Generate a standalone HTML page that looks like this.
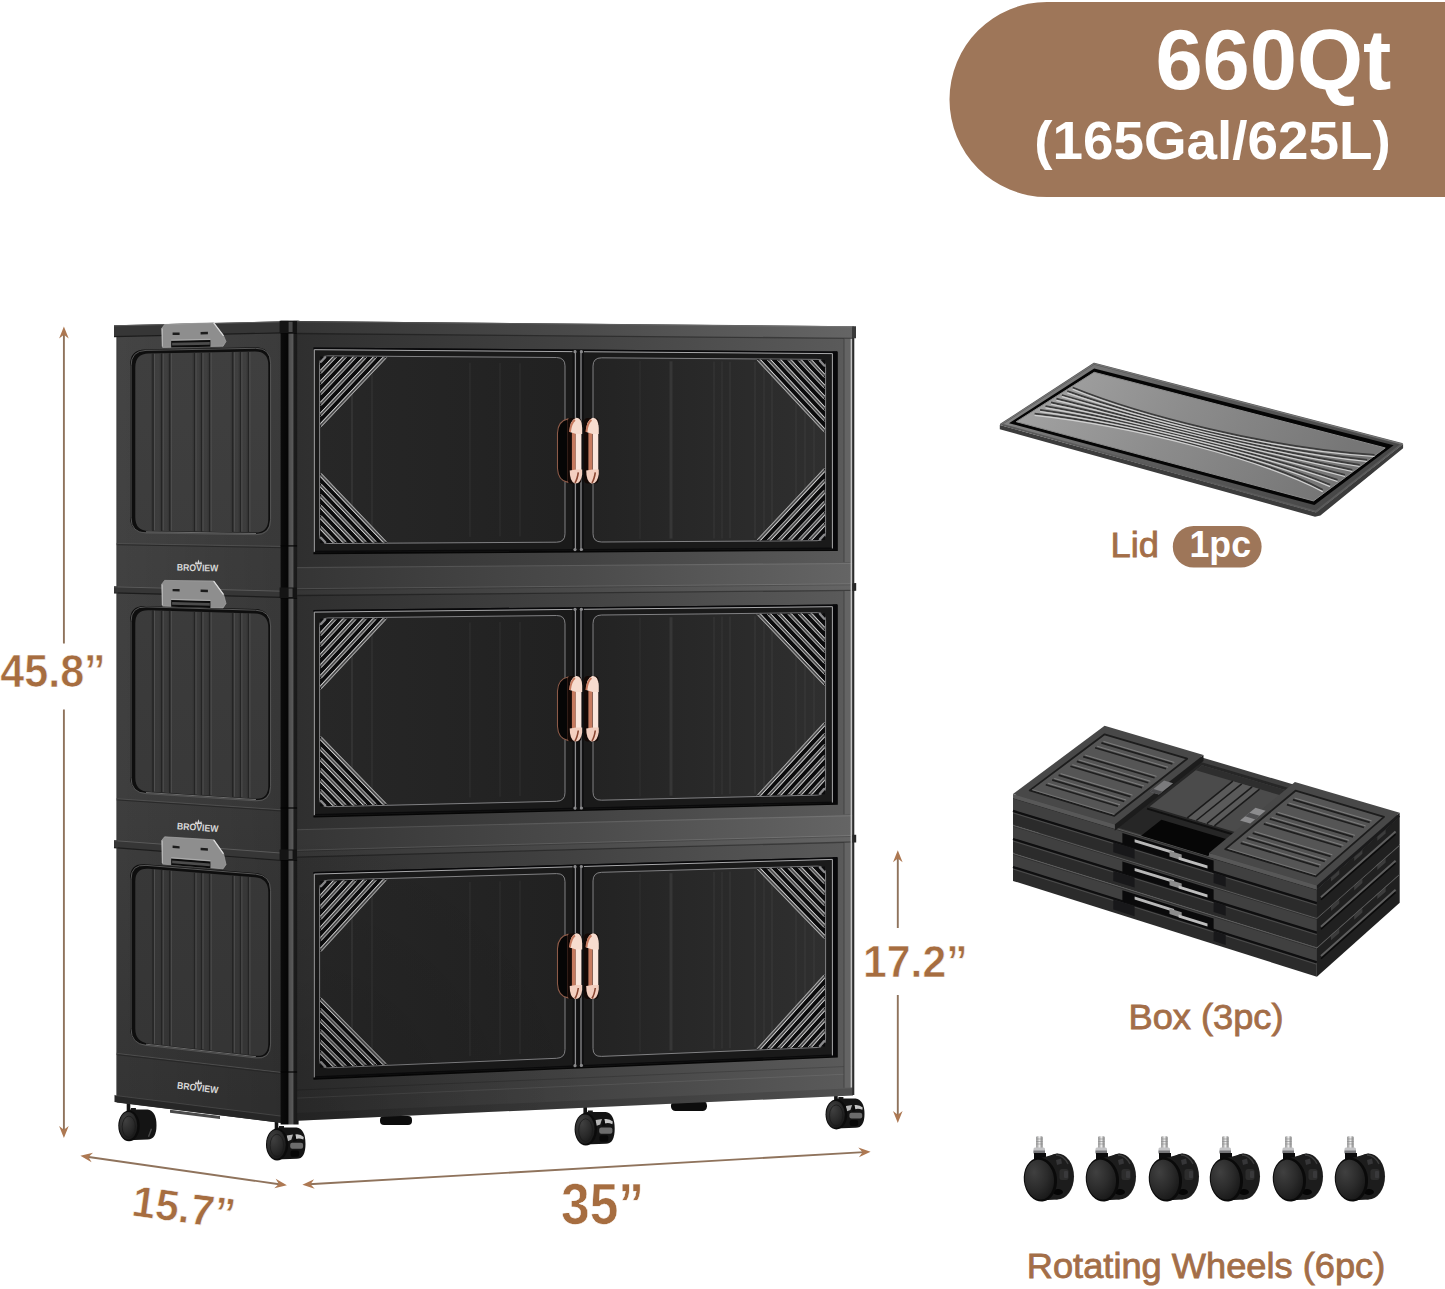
<!DOCTYPE html>
<html lang="en"><head><meta charset="utf-8"><title>660Qt storage cabinet</title>
<style>
html,body{margin:0;padding:0;background:#fff}
svg{display:block}
text{font-family:"Liberation Sans",sans-serif}
</style></head><body>
<svg width="1445" height="1289" viewBox="0 0 1445 1289">
<defs>
<linearGradient id="gRose" x1="0" y1="0" x2="1" y2="0">
 <stop offset="0" stop-color="#8a4a34"/><stop offset="0.3" stop-color="#e8b09a"/>
 <stop offset="0.55" stop-color="#fbe3d8"/><stop offset="0.8" stop-color="#d99078"/><stop offset="1" stop-color="#7a3d2a"/>
</linearGradient>
<linearGradient id="gPost" x1="0" y1="0" x2="1" y2="0">
 <stop offset="0" stop-color="#0b0b0b"/><stop offset="0.39" stop-color="#060606"/>
 <stop offset="0.48" stop-color="#4c4c4c"/><stop offset="0.66" stop-color="#595959"/>
 <stop offset="0.76" stop-color="#1d1d1d"/><stop offset="1" stop-color="#171717"/>
</linearGradient>
<linearGradient id="gFrame" x1="0" y1="0" x2="1" y2="0">
 <stop offset="0" stop-color="#2f2f2f"/><stop offset="0.5" stop-color="#424242"/><stop offset="1" stop-color="#5b5b5b"/>
</linearGradient>
<linearGradient id="gLip" x1="0" y1="0" x2="1" y2="0">
 <stop offset="0" stop-color="#353535"/><stop offset="0.5" stop-color="#4a4a4a"/><stop offset="1" stop-color="#656565"/>
</linearGradient>
<radialGradient id="gShade" gradientUnits="userSpaceOnUse" cx="297" cy="1125" r="300">
 <stop offset="0" stop-color="#000" stop-opacity="0.16"/><stop offset="0.5" stop-color="#000" stop-opacity="0.07"/><stop offset="1" stop-color="#000" stop-opacity="0"/>
</radialGradient>
<linearGradient id="gSide" gradientUnits="userSpaceOnUse" x1="0" y1="330" x2="0" y2="1100">
 <stop offset="0" stop-color="#444444"/><stop offset="0.6" stop-color="#3e3e3e"/><stop offset="1" stop-color="#343434"/>
</linearGradient>
<linearGradient id="gSideH" x1="0" y1="0" x2="1" y2="0">
 <stop offset="0" stop-color="#000" stop-opacity="0"/><stop offset="1" stop-color="#000" stop-opacity="0.13"/>
</linearGradient>
<linearGradient id="gRecess" gradientUnits="userSpaceOnUse" x1="0" y1="350" x2="0" y2="1045">
 <stop offset="0" stop-color="#3f3f3f"/><stop offset="1" stop-color="#353535"/>
</linearGradient>
<linearGradient id="gGlassL" x1="0" y1="0" x2="1" y2="0">
 <stop offset="0" stop-color="#272727"/><stop offset="1" stop-color="#212121"/>
</linearGradient>
<linearGradient id="gGlassR" x1="0" y1="0" x2="1" y2="0">
 <stop offset="0" stop-color="#232323"/><stop offset="1" stop-color="#2f2f2f"/>
</linearGradient>
<radialGradient id="gWheel" cx="0.4" cy="0.35" r="0.7">
 <stop offset="0" stop-color="#3a3a3a"/><stop offset="0.6" stop-color="#1c1c1c"/><stop offset="1" stop-color="#060606"/>
</radialGradient>
<radialGradient id="gWheelF" cx="0.35" cy="0.3" r="0.8">
 <stop offset="0" stop-color="#404040"/><stop offset="0.55" stop-color="#2b2b2b"/><stop offset="1" stop-color="#161616"/>
</radialGradient>
<linearGradient id="gLidTop" x1="0" y1="0" x2="1" y2="0.25">
 <stop offset="0" stop-color="#a6a6a6"/><stop offset="0.5" stop-color="#8c8c8c"/><stop offset="1" stop-color="#767676"/>
</linearGradient>
<linearGradient id="gLidRim" x1="0" y1="0" x2="1" y2="0.25">
 <stop offset="0" stop-color="#8e8e8e"/><stop offset="0.45" stop-color="#5e5e5e"/><stop offset="1" stop-color="#484848"/>
</linearGradient>
<linearGradient id="gStem" x1="0" y1="0" x2="1" y2="0">
 <stop offset="0" stop-color="#888"/><stop offset="0.5" stop-color="#eee"/><stop offset="1" stop-color="#777"/>
</linearGradient>
</defs>
<g id="cabinet">
<rect x="380" y="1116" width="32" height="9" rx="4" fill="#0c0c0c"/>
<rect x="671" y="1101" width="36" height="10" rx="4.5" fill="#0c0c0c"/>
<rect x="126.7" y="1101" width="3.6" height="12" fill="#141414"/>
<rect x="130.9" y="1108" width="5" height="3" fill="#1a1a1a"/>
<path d="M128.2 1109.5 L147.5 1109.5 Q156.5 1111 156.5 1125.3 Q156.5 1139.7 147.5 1139.5 L128.2 1140.2 Z" fill="#141414"/>
<path d="M148.5 1136.7 l3 -8" stroke="#4a4a4a" stroke-width="1.4" fill="none"/>
<ellipse cx="129" cy="1125.8" rx="10.7" ry="15.4" fill="#0b0b0b"/>
<ellipse cx="128.2" cy="1125.8" rx="9.1" ry="13.8" fill="url(#gWheelF)"/>
<ellipse cx="128.8" cy="1126.8" rx="6.6" ry="10.7" fill="none" stroke="#1a1a1a" stroke-width="0.8"/>
<rect x="274.7" y="1119" width="3.6" height="12" fill="#141414"/>
<rect x="279" y="1126" width="5" height="3" fill="#1a1a1a"/>
<path d="M276.3 1127.5 L296.5 1127.5 Q305.5 1129 305.5 1144 Q305.5 1159 296.5 1158.8 L276.3 1159.5 Z" fill="#141414"/>
<path d="M286.8 1135.4 l6.2 -1 l-1.7 5.4 l-4.1 1.6 z" fill="#b4b4b4"/>
<path d="M295.4 1134.4 q5.2 -0.6 8.3 2.6 l-0.3 2.6 q-4.3 -1.9 -7.2 -0.6 z" fill="#c6c6c6"/>
<path d="M294.7 1133.8 l2.1 7 l-3.8 0.6 l1 -3.8 z" fill="#0c0c0c"/>
<rect x="290.2" y="1142.7" width="12.9" height="6.1" rx="2" fill="#6c6c6c"/>
<rect x="290.5" y="1150.4" width="8.6" height="6.4" rx="2" fill="#070707"/>
<ellipse cx="277.1" cy="1144.4" rx="11.1" ry="16" fill="#0b0b0b"/>
<ellipse cx="276.3" cy="1144.4" rx="9.5" ry="14.4" fill="url(#gWheelF)"/>
<ellipse cx="276.9" cy="1145.4" rx="6.8" ry="11.2" fill="none" stroke="#1a1a1a" stroke-width="0.8"/>
<rect x="583.4" y="1104" width="3.6" height="11.5" fill="#141414"/>
<rect x="587.8" y="1110.5" width="5" height="3" fill="#1a1a1a"/>
<path d="M585 1112 L605.7 1112 Q614.7 1113.5 614.7 1128.8 Q614.7 1144 605.7 1143.8 L585 1144.5 Z" fill="#141414"/>
<path d="M595.7 1120 l6.3 -1 l-1.8 5.5 l-4.2 1.6 z" fill="#b4b4b4"/>
<path d="M604.4 1119 q5.3 -0.7 8.4 2.6 l-0.4 2.6 q-4.4 -1.9 -7.4 -0.7 z" fill="#c6c6c6"/>
<path d="M603.7 1118.3 l2.1 7.2 l-3.9 0.7 l1.1 -3.9 z" fill="#0c0c0c"/>
<rect x="599.2" y="1127.5" width="13.2" height="6.2" rx="2" fill="#6c6c6c"/>
<rect x="599.5" y="1135.2" width="8.8" height="6.5" rx="2" fill="#070707"/>
<ellipse cx="585.8" cy="1129.2" rx="11.2" ry="16.2" fill="#0b0b0b"/>
<ellipse cx="585" cy="1129.2" rx="9.6" ry="14.7" fill="url(#gWheelF)"/>
<ellipse cx="585.6" cy="1130.2" rx="6.9" ry="11.4" fill="none" stroke="#1a1a1a" stroke-width="0.8"/>
<rect x="834.1" y="1092" width="3.6" height="10" fill="#141414"/>
<rect x="838.4" y="1097" width="5" height="3" fill="#1a1a1a"/>
<path d="M835.6 1098.5 L855.5 1098.5 Q864.5 1100 864.5 1114 Q864.5 1128 855.5 1127.8 L835.6 1128.5 Z" fill="#141414"/>
<path d="M846 1105.9 l6.1 -0.9 l-1.7 5.1 l-4.1 1.5 z" fill="#b4b4b4"/>
<path d="M854.5 1105 q5.1 -0.6 8.2 2.4 l-0.3 2.4 q-4.2 -1.8 -7.1 -0.6 z" fill="#c6c6c6"/>
<path d="M853.8 1104.4 l2 6.6 l-3.7 0.6 l1 -3.6 z" fill="#0c0c0c"/>
<rect x="849.4" y="1112.8" width="12.8" height="5.7" rx="2" fill="#6c6c6c"/>
<rect x="849.7" y="1120" width="8.5" height="6" rx="2" fill="#070707"/>
<ellipse cx="836.4" cy="1114.4" rx="10.9" ry="15" fill="#0b0b0b"/>
<ellipse cx="835.6" cy="1114.4" rx="9.3" ry="13.4" fill="url(#gWheelF)"/>
<ellipse cx="836.2" cy="1115.4" rx="6.7" ry="10.5" fill="none" stroke="#1a1a1a" stroke-width="0.8"/>
<polygon points="116.6,330 282,326.1 282,1123.1 116.6,1102.4" fill="url(#gSide)" />
<polygon points="116.6,330 282,326.1 282,1123.1 116.6,1102.4" fill="url(#gSideH)" />
<polygon points="114.5,1095.4 282,1116.2 282,1123.1 114.5,1102.1" fill="#272727" />
<polyline points="114.5,1095.4 282,1116.2" fill="none" stroke="#4a4a4a" stroke-width="0.8" />
<polygon points="170,1109.8 220,1116 220,1119.1 170,1112.8" fill="#4a4a4a" />
<polyline points="116.6,543.5 282,546.4" fill="none" stroke="#505050" stroke-width="0.9" />
<polyline points="116.6,544.7 282,547.7" fill="none" stroke="#262626" stroke-width="0.9" />
<polygon points="114,325.3 282,321.3 282,332.9 114,336.6" fill="#363636" />
<polyline points="114,325.8 282,321.8" fill="none" stroke="#5a5a5a" stroke-width="1" />
<polyline points="114,336.6 282,332.9" fill="none" stroke="#1c1c1c" stroke-width="1.2" />
<path d="M145 349.4 L255 347.3 Q270 347 270 362.4 L270 518.6 Q270 534.1 255 533.8 L145 532.1 Q130 531.9 130 516.9 L130 364.8 Q130 349.7 145 349.4 Z" fill="#0e0e0e" />
<path d="M146 350.4 L255.6 348.3 Q270.6 348 270.6 363.5 L270.6 519.5 Q270.6 534.9 255.6 534.7 L146 533 Q131 532.7 131 517.7 L131 365.8 Q131 350.7 146 350.4 Z" fill="none" stroke="#555555" stroke-width="1" />
<path d="M148.8 353.6 L254.8 351.6 Q268.3 351.4 268.3 365.2 L268.3 518.9 Q268.3 532.8 254.8 532.6 L148.8 531 Q135.3 530.8 135.3 517.2 L135.3 367.4 Q135.3 353.8 148.8 353.6 Z" fill="url(#gRecess)" />
<polyline points="153,353.5 153,531.1" fill="none" stroke="#242424" stroke-width="1.5" />
<polyline points="154.5,353.8 154.5,530.3" fill="none" stroke="#565656" stroke-width="0.8" />
<polyline points="151.6,353.8 151.6,530.2" fill="none" stroke="#353535" stroke-width="0.8" />
<polyline points="161.7,353.3 161.7,531.2" fill="none" stroke="#242424" stroke-width="1.5" />
<polyline points="163.2,353.6 163.2,530.4" fill="none" stroke="#565656" stroke-width="0.8" />
<polyline points="160.3,353.7 160.3,530.4" fill="none" stroke="#353535" stroke-width="0.8" />
<polyline points="169.8,353.2 169.8,531.3" fill="none" stroke="#242424" stroke-width="1.5" />
<polyline points="171.3,353.5 171.3,530.5" fill="none" stroke="#565656" stroke-width="0.8" />
<polyline points="168.4,353.5 168.4,530.5" fill="none" stroke="#353535" stroke-width="0.8" />
<polyline points="194.5,352.7 194.5,531.7" fill="none" stroke="#242424" stroke-width="1.5" />
<polyline points="196,353 196,530.9" fill="none" stroke="#565656" stroke-width="0.8" />
<polyline points="193.1,353.1 193.1,530.9" fill="none" stroke="#353535" stroke-width="0.8" />
<polyline points="201.5,352.6 201.5,531.8" fill="none" stroke="#242424" stroke-width="1.5" />
<polyline points="203,352.9 203,531" fill="none" stroke="#565656" stroke-width="0.8" />
<polyline points="200.1,352.9 200.1,531" fill="none" stroke="#353535" stroke-width="0.8" />
<polyline points="209.6,352.5 209.6,531.9" fill="none" stroke="#242424" stroke-width="1.5" />
<polyline points="211.1,352.7 211.1,531.1" fill="none" stroke="#565656" stroke-width="0.8" />
<polyline points="208.2,352.8 208.2,531.1" fill="none" stroke="#353535" stroke-width="0.8" />
<polyline points="232.8,352 232.8,532.3" fill="none" stroke="#242424" stroke-width="1.5" />
<polyline points="234.3,352.3 234.3,531.5" fill="none" stroke="#565656" stroke-width="0.8" />
<polyline points="231.4,352.3 231.4,531.4" fill="none" stroke="#353535" stroke-width="0.8" />
<polyline points="240.4,351.9 240.4,532.4" fill="none" stroke="#242424" stroke-width="1.5" />
<polyline points="241.9,352.2 241.9,531.6" fill="none" stroke="#565656" stroke-width="0.8" />
<polyline points="239,352.2 239,531.6" fill="none" stroke="#353535" stroke-width="0.8" />
<polyline points="248.4,351.7 248.4,532.5" fill="none" stroke="#242424" stroke-width="1.5" />
<polyline points="249.9,352 249.9,531.7" fill="none" stroke="#565656" stroke-width="0.8" />
<polyline points="247,352.1 247,531.7" fill="none" stroke="#353535" stroke-width="0.8" />
<polyline points="146,531.8 256,533.5" fill="none" stroke="#6c6c6c" stroke-width="1" />
<polygon points="164.6,324.5 213.6,322.7 223.6,335.9 226,341.5 223.1,346.2 162.6,347.4 161.6,328.6" fill="#8e8e8e" stroke="#a8a8a8" stroke-width="0.7" stroke-linejoin="round"/>
<polyline points="213.9,323.1 223.2,335.4" fill="none" stroke="#dcdcdc" stroke-width="1.3" stroke-linecap="round"/>
<polyline points="162.4,328.6 162.4,346.4" fill="none" stroke="#b4b4b4" stroke-width="1.2" />
<polygon points="172.6,332.6 179.6,332.5 179.6,334.9 172.6,335" fill="#1c1c1c" />
<polygon points="200.6,332 207.9,331.8 207.9,334.3 200.6,334.4" fill="#1c1c1c" />
<polygon points="171.2,340.8 210.4,340 210.4,346.8 171.2,347.6" fill="#0c0c0c" />
<polygon points="172.1,342.8 209.8,342.1 209.8,344.8 172.1,345.6" fill="#4c4c4c" />
<polyline points="171.2,340.1 210.4,339.3" fill="none" stroke="#b0b0b0" stroke-width="0.9" />
<text x="176.8" y="570.6" font-size="9.6" font-weight="700" fill="#d8d8d8" textLength="41.5" lengthAdjust="spacingAndGlyphs" transform="rotate(1.3 176.8 570.6)">BROVIEW</text>
<path d="M194.7 564.2 l1.2 -3 l1.3 2 l1.3 -3.6 l1.3 3.6 l1.3 -2 l1.2 3 z" fill="#d8d8d8"/>
<polyline points="116.6,798.7 282,809.8" fill="none" stroke="#505050" stroke-width="0.9" />
<polyline points="116.6,799.9 282,811" fill="none" stroke="#262626" stroke-width="0.9" />
<polygon points="114,586.3 282,590.7 282,597.4 114,592.8" fill="#363636" />
<polyline points="114,586.8 282,591.2" fill="none" stroke="#5a5a5a" stroke-width="1" />
<polyline points="114,592.8 282,597.4" fill="none" stroke="#1c1c1c" stroke-width="1.2" />
<path d="M145 605.9 L255 609.1 Q270 609.6 270 625 L270 785.5 Q270 801 255 800 L145 792.8 Q130 791.8 130 776.8 L130 620.5 Q130 605.4 145 605.9 Z" fill="#0e0e0e" />
<path d="M146 606.9 L255.6 610.2 Q270.6 610.6 270.6 626 L270.6 786.4 Q270.6 801.8 255.6 800.8 L146 793.7 Q131 792.7 131 777.6 L131 621.5 Q131 606.4 146 606.9 Z" fill="none" stroke="#555555" stroke-width="1" />
<path d="M148.8 610.2 L254.8 613.4 Q268.3 613.8 268.3 627.7 L268.3 785.7 Q268.3 799.6 254.8 798.7 L148.8 791.8 Q135.3 791 135.3 777.4 L135.3 623.3 Q135.3 609.8 148.8 610.2 Z" fill="url(#gRecess)" />
<polyline points="153,610.3 153,792.1" fill="none" stroke="#242424" stroke-width="1.5" />
<polyline points="154.5,610.7 154.5,791.4" fill="none" stroke="#565656" stroke-width="0.8" />
<polyline points="151.6,610.6 151.6,791.2" fill="none" stroke="#353535" stroke-width="0.8" />
<polyline points="161.7,610.6 161.7,792.7" fill="none" stroke="#242424" stroke-width="1.5" />
<polyline points="163.2,610.9 163.2,792" fill="none" stroke="#565656" stroke-width="0.8" />
<polyline points="160.3,610.8 160.3,791.8" fill="none" stroke="#353535" stroke-width="0.8" />
<polyline points="169.8,610.8 169.8,793.2" fill="none" stroke="#242424" stroke-width="1.5" />
<polyline points="171.3,611.2 171.3,792.5" fill="none" stroke="#565656" stroke-width="0.8" />
<polyline points="168.4,611.1 168.4,792.3" fill="none" stroke="#353535" stroke-width="0.8" />
<polyline points="194.5,611.6 194.5,794.8" fill="none" stroke="#242424" stroke-width="1.5" />
<polyline points="196,611.9 196,794.1" fill="none" stroke="#565656" stroke-width="0.8" />
<polyline points="193.1,611.8 193.1,793.9" fill="none" stroke="#353535" stroke-width="0.8" />
<polyline points="201.5,611.8 201.5,795.3" fill="none" stroke="#242424" stroke-width="1.5" />
<polyline points="203,612.1 203,794.6" fill="none" stroke="#565656" stroke-width="0.8" />
<polyline points="200.1,612.1 200.1,794.4" fill="none" stroke="#353535" stroke-width="0.8" />
<polyline points="209.6,612 209.6,795.8" fill="none" stroke="#242424" stroke-width="1.5" />
<polyline points="211.1,612.4 211.1,795.1" fill="none" stroke="#565656" stroke-width="0.8" />
<polyline points="208.2,612.3 208.2,794.9" fill="none" stroke="#353535" stroke-width="0.8" />
<polyline points="232.8,612.7 232.8,797.3" fill="none" stroke="#242424" stroke-width="1.5" />
<polyline points="234.3,613.1 234.3,796.6" fill="none" stroke="#565656" stroke-width="0.8" />
<polyline points="231.4,613 231.4,796.4" fill="none" stroke="#353535" stroke-width="0.8" />
<polyline points="240.4,613 240.4,797.8" fill="none" stroke="#242424" stroke-width="1.5" />
<polyline points="241.9,613.3 241.9,797.1" fill="none" stroke="#565656" stroke-width="0.8" />
<polyline points="239,613.2 239,796.9" fill="none" stroke="#353535" stroke-width="0.8" />
<polyline points="248.4,613.2 248.4,798.3" fill="none" stroke="#242424" stroke-width="1.5" />
<polyline points="249.9,613.6 249.9,797.6" fill="none" stroke="#565656" stroke-width="0.8" />
<polyline points="247,613.5 247,797.4" fill="none" stroke="#353535" stroke-width="0.8" />
<polyline points="146,792.5 256,799.6" fill="none" stroke="#6c6c6c" stroke-width="1" />
<polygon points="164.6,580.4 213.6,581 223.6,594.6 226,603.4 223.1,607.9 162.6,606.1 161.6,584.4" fill="#8e8e8e" stroke="#a8a8a8" stroke-width="0.7" stroke-linejoin="round"/>
<polyline points="213.9,581.4 223.2,594.1" fill="none" stroke="#dcdcdc" stroke-width="1.3" stroke-linecap="round"/>
<polyline points="162.4,584.4 162.4,605.1" fill="none" stroke="#b4b4b4" stroke-width="1.2" />
<polygon points="172.6,588.9 179.6,589.1 179.6,591.5 172.6,591.3" fill="#1c1c1c" />
<polygon points="200.6,589.6 207.9,589.8 207.9,592.2 200.6,592.1" fill="#1c1c1c" />
<polygon points="171.2,600 210.4,601.1 210.4,607.9 171.2,606.7" fill="#0c0c0c" />
<polygon points="172.1,602 209.8,603.1 209.8,605.8 172.1,604.7" fill="#4c4c4c" />
<polyline points="171.2,599.3 210.4,600.4" fill="none" stroke="#b0b0b0" stroke-width="0.9" />
<text x="176.8" y="829.2" font-size="9.6" font-weight="700" fill="#d8d8d8" textLength="41.5" lengthAdjust="spacingAndGlyphs" transform="rotate(4.1 176.8 829.2)">BROVIEW</text>
<path d="M194.7 823.9 l1.2 -3 l1.3 2 l1.3 -3.6 l1.3 3.6 l1.3 -2 l1.2 3 z" fill="#d8d8d8"/>
<polyline points="116.6,1053.4 282,1072.5" fill="none" stroke="#505050" stroke-width="0.9" />
<polyline points="116.6,1054.6 282,1073.8" fill="none" stroke="#262626" stroke-width="0.9" />
<polygon points="114,840.1 282,852.6 282,860.5 114,847.6" fill="#363636" />
<polyline points="114,840.6 282,853.1" fill="none" stroke="#5a5a5a" stroke-width="1" />
<polyline points="114,847.6 282,860.5" fill="none" stroke="#1c1c1c" stroke-width="1.2" />
<path d="M145 864.3 L255 873 Q270 874.2 270 889.6 L270 1043.2 Q270 1058.7 255 1057 L145 1044.5 Q130 1042.8 130 1027.7 L130 878.1 Q130 863.1 145 864.3 Z" fill="#0e0e0e" />
<path d="M146 865.4 L255.6 874.1 Q270.6 875.2 270.6 890.7 L270.6 1044.1 Q270.6 1059.6 255.6 1057.9 L146 1045.4 Q131 1043.7 131 1028.7 L131 879.2 Q131 864.2 146 865.4 Z" fill="none" stroke="#555555" stroke-width="1" />
<path d="M148.8 868.8 L254.8 877.3 Q268.3 878.4 268.3 892.3 L268.3 1043.4 Q268.3 1057.3 254.8 1055.7 L148.8 1043.7 Q135.3 1042.2 135.3 1028.6 L135.3 881.3 Q135.3 867.7 148.8 868.8 Z" fill="url(#gRecess)" />
<polyline points="153,869.2 153,1044.2" fill="none" stroke="#242424" stroke-width="1.5" />
<polyline points="154.5,869.6 154.5,1043.6" fill="none" stroke="#565656" stroke-width="0.8" />
<polyline points="151.6,869.3 151.6,1043.2" fill="none" stroke="#353535" stroke-width="0.8" />
<polyline points="161.7,869.8 161.7,1045.2" fill="none" stroke="#242424" stroke-width="1.5" />
<polyline points="163.2,870.3 163.2,1044.5" fill="none" stroke="#565656" stroke-width="0.8" />
<polyline points="160.3,870 160.3,1044.2" fill="none" stroke="#353535" stroke-width="0.8" />
<polyline points="169.8,870.5 169.8,1046.1" fill="none" stroke="#242424" stroke-width="1.5" />
<polyline points="171.3,870.9 171.3,1045.5" fill="none" stroke="#565656" stroke-width="0.8" />
<polyline points="168.4,870.7 168.4,1045.1" fill="none" stroke="#353535" stroke-width="0.8" />
<polyline points="194.5,872.5 194.5,1048.9" fill="none" stroke="#242424" stroke-width="1.5" />
<polyline points="196,872.9 196,1048.2" fill="none" stroke="#565656" stroke-width="0.8" />
<polyline points="193.1,872.7 193.1,1047.9" fill="none" stroke="#353535" stroke-width="0.8" />
<polyline points="201.5,873 201.5,1049.7" fill="none" stroke="#242424" stroke-width="1.5" />
<polyline points="203,873.5 203,1049" fill="none" stroke="#565656" stroke-width="0.8" />
<polyline points="200.1,873.2 200.1,1048.7" fill="none" stroke="#353535" stroke-width="0.8" />
<polyline points="209.6,873.7 209.6,1050.6" fill="none" stroke="#242424" stroke-width="1.5" />
<polyline points="211.1,874.1 211.1,1050" fill="none" stroke="#565656" stroke-width="0.8" />
<polyline points="208.2,873.9 208.2,1049.6" fill="none" stroke="#353535" stroke-width="0.8" />
<polyline points="232.8,875.5 232.8,1053.2" fill="none" stroke="#242424" stroke-width="1.5" />
<polyline points="234.3,876 234.3,1052.6" fill="none" stroke="#565656" stroke-width="0.8" />
<polyline points="231.4,875.7 231.4,1052.3" fill="none" stroke="#353535" stroke-width="0.8" />
<polyline points="240.4,876.1 240.4,1054.1" fill="none" stroke="#242424" stroke-width="1.5" />
<polyline points="241.9,876.6 241.9,1053.4" fill="none" stroke="#565656" stroke-width="0.8" />
<polyline points="239,876.3 239,1053.1" fill="none" stroke="#353535" stroke-width="0.8" />
<polyline points="248.4,876.8 248.4,1055" fill="none" stroke="#242424" stroke-width="1.5" />
<polyline points="249.9,877.2 249.9,1054.3" fill="none" stroke="#565656" stroke-width="0.8" />
<polyline points="247,877 247,1054" fill="none" stroke="#353535" stroke-width="0.8" />
<polyline points="146,1044.2 256,1056.7" fill="none" stroke="#6c6c6c" stroke-width="1" />
<polygon points="164.6,836.8 213.6,839.8 223.6,853.9 226,864.5 223.1,868.8 162.6,864.1 161.6,840.6" fill="#8e8e8e" stroke="#a8a8a8" stroke-width="0.7" stroke-linejoin="round"/>
<polyline points="213.9,840.2 223.2,853.3" fill="none" stroke="#dcdcdc" stroke-width="1.3" stroke-linecap="round"/>
<polyline points="162.4,840.6 162.4,863" fill="none" stroke="#b4b4b4" stroke-width="1.2" />
<polygon points="172.6,845.6 179.6,846.2 179.6,848.6 172.6,848.1" fill="#1c1c1c" />
<polygon points="200.6,847.7 207.9,848.3 207.9,850.7 200.6,850.2" fill="#1c1c1c" />
<polygon points="171.2,858.4 210.4,861.4 210.4,868.2 171.2,865.1" fill="#0c0c0c" />
<polygon points="172.1,860.5 209.8,863.4 209.8,866.2 172.1,863.2" fill="#4c4c4c" />
<polyline points="171.2,857.7 210.4,860.7" fill="none" stroke="#b0b0b0" stroke-width="0.9" />
<text x="176.8" y="1088.4" font-size="9.6" font-weight="700" fill="#d8d8d8" textLength="41.5" lengthAdjust="spacingAndGlyphs" transform="rotate(6.9 176.8 1088.4)">BROVIEW</text>
<path d="M194.7 1084.2 l1.2 -3 l1.3 2 l1.3 -3.6 l1.3 3.6 l1.3 -2 l1.2 3 z" fill="#d8d8d8"/>
<polyline points="117,337 117,1095.1" fill="none" stroke="#3a3a3a" stroke-width="0.8" />
<polygon points="280.6,320.8 298.6,320.8 298.6,1124.5 280.6,1124.5" fill="url(#gPost)"/>
<line x1="280.6" y1="333" x2="298.6" y2="333" stroke="#050505" stroke-width="1.2"/>
<line x1="280.6" y1="590" x2="298.6" y2="590" stroke="#050505" stroke-width="1.2"/>
<line x1="280.6" y1="598" x2="298.6" y2="598" stroke="#050505" stroke-width="1.2"/>
<line x1="280.6" y1="852" x2="298.6" y2="852" stroke="#050505" stroke-width="1.2"/>
<line x1="280.6" y1="860" x2="298.6" y2="860" stroke="#050505" stroke-width="1.2"/>
<line x1="280.6" y1="545.9" x2="298.6" y2="545.9" stroke="#050505" stroke-width="1.2"/>
<line x1="280.6" y1="808" x2="298.6" y2="808" stroke="#050505" stroke-width="1.2"/>
<line x1="280.6" y1="1072" x2="298.6" y2="1072" stroke="#050505" stroke-width="1.2"/>
<rect x="279.6" y="320.8" width="20" height="12.2" fill="#141414"/>
<rect x="288.6" y="321.8" width="4" height="10.2" fill="#4a4a4a"/>
<rect x="279.6" y="587.5" width="20" height="10.5" fill="#141414"/>
<rect x="288.6" y="588.5" width="4" height="8.5" fill="#4a4a4a"/>
<rect x="279.6" y="849.5" width="20" height="10.5" fill="#141414"/>
<rect x="288.6" y="850.5" width="4" height="8.5" fill="#4a4a4a"/>
<polygon points="297.2,321 853,326.2 853,1095.6 297.2,1120.7" fill="url(#gFrame)" />
<polygon points="297.2,1113.1 853,1088.3 853,1095.6 297.2,1120.7" fill="#000000" opacity="0.12"/>
<polyline points="297.2,1098.1 853,1073.9" fill="none" stroke="#ffffff" stroke-width="0.8" opacity="0.10"/>
<polyline points="297.2,1090.1 853,1066.2" fill="none" stroke="#000000" stroke-width="0.8" opacity="0.22"/>
<polygon points="297.2,321 853.8,326.3 853.8,338.3 297.2,333.5" fill="url(#gLip)" />
<polyline points="297.2,321.6 853.8,326.8" fill="none" stroke="#ffffff" stroke-width="1.1" opacity="0.10"/>
<polyline points="297.2,333.5 853.8,338.3" fill="none" stroke="#000000" stroke-width="1.3" opacity="0.35"/>
<polygon points="313.5,347.5 837,351.5 837,550.1 313.5,553.4" fill="#1a1a1a" />
<polyline points="313.5,553.4 837,550.1 837,351.5" fill="none" stroke="#060606" stroke-width="1.6" />
<polygon points="832.8,351.5 837,351.5 837,550.1 832.8,550.1" fill="#08080a" />
<polygon points="313.5,347.5 837,351.5 837,353.3 313.5,349.3" fill="#08080a" />
<polygon points="315.1,550.8 837,547.6 837,548.9 315.1,552.2" fill="#0a0a0b" />
<polyline points="314.3,551.8 314.3,349.7 832.4,353.6 832.4,548.5" fill="none" stroke="#a9a9ab" stroke-width="1" />
<path d="M328.1 355.9 L556.5 357.5 Q565 357.6 565 365.9 L565 533.8 Q565 542.2 556.5 542.2 L328.1 543.5 Q319.6 543.6 319.6 535.1 L319.6 364.3 Q319.6 355.8 328.1 355.9 Z" fill="#0a0a0b" />
<path d="M601.5 357.8 L817.1 359.4 Q825.6 359.4 825.6 367.6 L825.6 532.5 Q825.6 540.7 817.1 540.7 L601.5 542 Q593 542 593 533.7 L593 366.1 Q593 357.8 601.5 357.8 Z" fill="#0a0a0b" />
<path d="M328.1 355.9 L556.5 357.5 Q565 357.6 565 365.9 L565 533.8 Q565 542.2 556.5 542.2 L328.1 543.5 Q319.6 543.6 319.6 535.1 L319.6 364.3 Q319.6 355.8 328.1 355.9 Z" fill="url(#gGlassL)" stroke="#8c8c8e" stroke-width="0.9" />
<path d="M601.5 357.8 L817.1 359.4 Q825.6 359.4 825.6 367.6 L825.6 532.5 Q825.6 540.7 817.1 540.7 L601.5 542 Q593 542 593 533.7 L593 366.1 Q593 357.8 601.5 357.8 Z" fill="url(#gGlassR)" stroke="#8c8c8e" stroke-width="0.9" />
<polyline points="352,362 352,537.4" fill="none" stroke="#ffffff" stroke-width="1.2" opacity="0.1"/>
<polyline points="372,362.2 372,537.3" fill="none" stroke="#ffffff" stroke-width="1.2" opacity="0.07"/>
<polyline points="470,362.8 470,536.8" fill="none" stroke="#ffffff" stroke-width="1.2" opacity="0.06"/>
<polyline points="500,363 500,536.6" fill="none" stroke="#ffffff" stroke-width="1.2" opacity="0.05"/>
<polyline points="520,363.2 520,536.5" fill="none" stroke="#ffffff" stroke-width="1.2" opacity="0.05"/>
<polyline points="671,361.3 671,538.6" fill="none" stroke="#ffffff" stroke-width="3" opacity="0.07"/>
<polyline points="640,361.1 640,538.8" fill="none" stroke="#ffffff" stroke-width="1.1" opacity="0.05"/>
<polyline points="714,361.6 714,538.4" fill="none" stroke="#ffffff" stroke-width="1.1" opacity="0.07"/>
<polyline points="722,361.6 722,538.4" fill="none" stroke="#ffffff" stroke-width="1.1" opacity="0.06"/>
<polyline points="730,361.7 730,538.3" fill="none" stroke="#ffffff" stroke-width="1.1" opacity="0.07"/>
<polyline points="755,361.8 755,538.2" fill="none" stroke="#ffffff" stroke-width="1.1" opacity="0.07"/>
<polyline points="764,361.9 764,538.1" fill="none" stroke="#ffffff" stroke-width="1.1" opacity="0.06"/>
<polyline points="772,362 772,538.1" fill="none" stroke="#ffffff" stroke-width="1.1" opacity="0.07"/>
<polyline points="796,362.1 796,538" fill="none" stroke="#ffffff" stroke-width="1.1" opacity="0.06"/>
<polyline points="805,362.2 805,537.9" fill="none" stroke="#ffffff" stroke-width="1.1" opacity="0.06"/>
<polyline points="814,362.3 814,537.9" fill="none" stroke="#ffffff" stroke-width="1.1" opacity="0.06"/>
<polygon points="320.2,356.4 387.2,356.9 320.2,427.8" fill="#0b0b0c" />
<polyline points="384.9,357.3 320.6,425.3" fill="none" stroke="#707070" stroke-width="3.7" />
<polyline points="384.9,357.3 320.6,425.3" fill="none" stroke="#303032" stroke-width="0.9" />
<polyline points="382.9,357.3 320.6,423.4" fill="none" stroke="#cfcfcf" stroke-width="1" />
<polyline points="386.8,357.3 320.6,427.3" fill="none" stroke="#ababab" stroke-width="0.9" />
<polyline points="374.8,357.2 320.6,414.7" fill="none" stroke="#707070" stroke-width="3.7" />
<polyline points="374.8,357.2 320.6,414.7" fill="none" stroke="#303032" stroke-width="0.9" />
<polyline points="372.9,357.2 320.6,412.7" fill="none" stroke="#cfcfcf" stroke-width="1" />
<polyline points="376.8,357.2 320.6,416.6" fill="none" stroke="#ababab" stroke-width="0.9" />
<polyline points="364.8,357.2 320.6,404" fill="none" stroke="#707070" stroke-width="3.7" />
<polyline points="364.8,357.2 320.6,404" fill="none" stroke="#303032" stroke-width="0.9" />
<polyline points="362.9,357.1 320.6,402" fill="none" stroke="#cfcfcf" stroke-width="1" />
<polyline points="366.8,357.2 320.6,405.9" fill="none" stroke="#ababab" stroke-width="0.9" />
<polyline points="354.8,357.1 320.6,393.3" fill="none" stroke="#707070" stroke-width="3.7" />
<polyline points="354.8,357.1 320.6,393.3" fill="none" stroke="#303032" stroke-width="0.9" />
<polyline points="352.8,357.1 320.6,391.4" fill="none" stroke="#cfcfcf" stroke-width="1" />
<polyline points="356.7,357.1 320.6,395.2" fill="none" stroke="#ababab" stroke-width="0.9" />
<polyline points="344.8,357 320.6,382.6" fill="none" stroke="#707070" stroke-width="3.7" />
<polyline points="344.8,357 320.6,382.6" fill="none" stroke="#303032" stroke-width="0.9" />
<polyline points="342.8,357 320.6,380.7" fill="none" stroke="#cfcfcf" stroke-width="1" />
<polyline points="346.7,357 320.6,384.6" fill="none" stroke="#ababab" stroke-width="0.9" />
<polyline points="334.7,356.9 320.6,371.9" fill="none" stroke="#707070" stroke-width="3.7" />
<polyline points="334.7,356.9 320.6,371.9" fill="none" stroke="#303032" stroke-width="0.9" />
<polyline points="332.8,356.9 320.6,370" fill="none" stroke="#cfcfcf" stroke-width="1" />
<polyline points="336.7,357 320.6,373.9" fill="none" stroke="#ababab" stroke-width="0.9" />
<polyline points="325.2,357.3 321,361.8" fill="none" stroke="#8a8a8c" stroke-width="2.4" stroke-linecap="round"/>
<polygon points="320.2,543 387.2,542.6 320.2,472.4" fill="#0b0b0c" />
<polyline points="384.9,542.2 320.6,474.9" fill="none" stroke="#707070" stroke-width="3.7" />
<polyline points="384.9,542.2 320.6,474.9" fill="none" stroke="#303032" stroke-width="0.9" />
<polyline points="382.9,542.2 320.6,476.8" fill="none" stroke="#cfcfcf" stroke-width="1" />
<polyline points="386.8,542.2 320.6,472.9" fill="none" stroke="#ababab" stroke-width="0.9" />
<polyline points="374.8,542.3 320.6,485.4" fill="none" stroke="#707070" stroke-width="3.7" />
<polyline points="374.8,542.3 320.6,485.4" fill="none" stroke="#303032" stroke-width="0.9" />
<polyline points="372.9,542.3 320.6,487.4" fill="none" stroke="#cfcfcf" stroke-width="1" />
<polyline points="376.8,542.3 320.6,483.5" fill="none" stroke="#ababab" stroke-width="0.9" />
<polyline points="364.8,542.3 320.6,496" fill="none" stroke="#707070" stroke-width="3.7" />
<polyline points="364.8,542.3 320.6,496" fill="none" stroke="#303032" stroke-width="0.9" />
<polyline points="362.9,542.3 320.6,497.9" fill="none" stroke="#cfcfcf" stroke-width="1" />
<polyline points="366.8,542.3 320.6,494" fill="none" stroke="#ababab" stroke-width="0.9" />
<polyline points="354.8,542.4 320.6,506.5" fill="none" stroke="#707070" stroke-width="3.7" />
<polyline points="354.8,542.4 320.6,506.5" fill="none" stroke="#303032" stroke-width="0.9" />
<polyline points="352.8,542.4 320.6,508.5" fill="none" stroke="#cfcfcf" stroke-width="1" />
<polyline points="356.7,542.4 320.6,504.6" fill="none" stroke="#ababab" stroke-width="0.9" />
<polyline points="344.8,542.4 320.6,517.1" fill="none" stroke="#707070" stroke-width="3.7" />
<polyline points="344.8,542.4 320.6,517.1" fill="none" stroke="#303032" stroke-width="0.9" />
<polyline points="342.8,542.5 320.6,519" fill="none" stroke="#cfcfcf" stroke-width="1" />
<polyline points="346.7,542.4 320.6,515.2" fill="none" stroke="#ababab" stroke-width="0.9" />
<polyline points="334.7,542.5 320.6,527.7" fill="none" stroke="#707070" stroke-width="3.7" />
<polyline points="334.7,542.5 320.6,527.7" fill="none" stroke="#303032" stroke-width="0.9" />
<polyline points="332.8,542.5 320.6,529.6" fill="none" stroke="#cfcfcf" stroke-width="1" />
<polyline points="336.7,542.5 320.6,525.7" fill="none" stroke="#ababab" stroke-width="0.9" />
<polyline points="325.2,542.2 321,537.7" fill="none" stroke="#8a8a8c" stroke-width="2.4" stroke-linecap="round"/>
<polygon points="825,360 756.5,359.5 825,433.1" fill="#0b0b0c" />
<polyline points="758.9,359.9 824.6,430.5" fill="none" stroke="#707070" stroke-width="3.7" />
<polyline points="758.9,359.9 824.6,430.5" fill="none" stroke="#303032" stroke-width="0.9" />
<polyline points="760.8,359.9 824.6,428.7" fill="none" stroke="#cfcfcf" stroke-width="1" />
<polyline points="756.9,359.9 824.6,432.4" fill="none" stroke="#ababab" stroke-width="0.9" />
<polyline points="769.1,360 824.6,419.6" fill="none" stroke="#707070" stroke-width="3.7" />
<polyline points="769.1,360 824.6,419.6" fill="none" stroke="#303032" stroke-width="0.9" />
<polyline points="771.1,360 824.6,417.7" fill="none" stroke="#cfcfcf" stroke-width="1" />
<polyline points="767.2,360 824.6,421.5" fill="none" stroke="#ababab" stroke-width="0.9" />
<polyline points="779.4,360.1 824.6,408.7" fill="none" stroke="#707070" stroke-width="3.7" />
<polyline points="779.4,360.1 824.6,408.7" fill="none" stroke="#303032" stroke-width="0.9" />
<polyline points="781.3,360.1 824.6,406.8" fill="none" stroke="#cfcfcf" stroke-width="1" />
<polyline points="777.4,360.1 824.6,410.6" fill="none" stroke="#ababab" stroke-width="0.9" />
<polyline points="789.6,360.2 824.6,397.7" fill="none" stroke="#707070" stroke-width="3.7" />
<polyline points="789.6,360.2 824.6,397.7" fill="none" stroke="#303032" stroke-width="0.9" />
<polyline points="791.6,360.2 824.6,395.9" fill="none" stroke="#cfcfcf" stroke-width="1" />
<polyline points="787.7,360.1 824.6,399.6" fill="none" stroke="#ababab" stroke-width="0.9" />
<polyline points="799.9,360.2 824.6,386.8" fill="none" stroke="#707070" stroke-width="3.7" />
<polyline points="799.9,360.2 824.6,386.8" fill="none" stroke="#303032" stroke-width="0.9" />
<polyline points="801.8,360.2 824.6,384.9" fill="none" stroke="#cfcfcf" stroke-width="1" />
<polyline points="797.9,360.2 824.6,388.7" fill="none" stroke="#ababab" stroke-width="0.9" />
<polyline points="810.1,360.3 824.6,375.9" fill="none" stroke="#707070" stroke-width="3.7" />
<polyline points="810.1,360.3 824.6,375.9" fill="none" stroke="#303032" stroke-width="0.9" />
<polyline points="812.1,360.3 824.6,374" fill="none" stroke="#cfcfcf" stroke-width="1" />
<polyline points="808.2,360.3 824.6,377.8" fill="none" stroke="#ababab" stroke-width="0.9" />
<polyline points="819.9,360.8 824.2,365.5" fill="none" stroke="#8a8a8c" stroke-width="2.4" stroke-linecap="round"/>
<polygon points="825,540.1 756.5,540.5 825,467.3" fill="#0b0b0c" />
<polyline points="758.9,540.1 824.6,469.9" fill="none" stroke="#707070" stroke-width="3.7" />
<polyline points="758.9,540.1 824.6,469.9" fill="none" stroke="#303032" stroke-width="0.9" />
<polyline points="760.8,540.1 824.6,471.7" fill="none" stroke="#cfcfcf" stroke-width="1" />
<polyline points="756.9,540.1 824.6,468" fill="none" stroke="#ababab" stroke-width="0.9" />
<polyline points="769.1,540 824.6,480.8" fill="none" stroke="#707070" stroke-width="3.7" />
<polyline points="769.1,540 824.6,480.8" fill="none" stroke="#303032" stroke-width="0.9" />
<polyline points="771.1,540 824.6,482.6" fill="none" stroke="#cfcfcf" stroke-width="1" />
<polyline points="767.2,540.1 824.6,478.9" fill="none" stroke="#ababab" stroke-width="0.9" />
<polyline points="779.4,540 824.6,491.6" fill="none" stroke="#707070" stroke-width="3.7" />
<polyline points="779.4,540 824.6,491.6" fill="none" stroke="#303032" stroke-width="0.9" />
<polyline points="781.3,540 824.6,493.5" fill="none" stroke="#cfcfcf" stroke-width="1" />
<polyline points="777.4,540 824.6,489.8" fill="none" stroke="#ababab" stroke-width="0.9" />
<polyline points="789.6,539.9 824.6,502.5" fill="none" stroke="#707070" stroke-width="3.7" />
<polyline points="789.6,539.9 824.6,502.5" fill="none" stroke="#303032" stroke-width="0.9" />
<polyline points="791.6,539.9 824.6,504.4" fill="none" stroke="#cfcfcf" stroke-width="1" />
<polyline points="787.7,539.9 824.6,500.7" fill="none" stroke="#ababab" stroke-width="0.9" />
<polyline points="799.9,539.9 824.6,513.4" fill="none" stroke="#707070" stroke-width="3.7" />
<polyline points="799.9,539.9 824.6,513.4" fill="none" stroke="#303032" stroke-width="0.9" />
<polyline points="801.8,539.9 824.6,515.3" fill="none" stroke="#cfcfcf" stroke-width="1" />
<polyline points="797.9,539.9 824.6,511.5" fill="none" stroke="#ababab" stroke-width="0.9" />
<polyline points="810.1,539.8 824.6,524.3" fill="none" stroke="#707070" stroke-width="3.7" />
<polyline points="810.1,539.8 824.6,524.3" fill="none" stroke="#303032" stroke-width="0.9" />
<polyline points="812.1,539.8 824.6,526.2" fill="none" stroke="#cfcfcf" stroke-width="1" />
<polyline points="808.2,539.8 824.6,522.4" fill="none" stroke="#ababab" stroke-width="0.9" />
<polyline points="819.9,539.4 824.2,534.7" fill="none" stroke="#8a8a8c" stroke-width="2.4" stroke-linecap="round"/>
<polygon points="572.5,350.5 584,350.6 584,550.7 572.5,550.8" fill="#101011" />
<polyline points="575.4,350.5 575.4,550.8" fill="none" stroke="#8a8a8d" stroke-width="1.3" />
<polyline points="581,350.5 581,550.7" fill="none" stroke="#8a8a8d" stroke-width="1.3" />
<circle cx="575" cy="351.7" r="1.6" fill="#8a8a8c"/>
<circle cx="581.4" cy="351.7" r="1.6" fill="#8a8a8c"/>
<circle cx="575" cy="549.6" r="1.6" fill="#8a8a8c"/>
<circle cx="581.4" cy="549.5" r="1.6" fill="#8a8a8c"/>
<polygon points="297.2,567 853.8,562.9 853.8,590.4 297.2,595.5" fill="url(#gLip)" />
<polyline points="297.2,567.6 853.8,563.5" fill="none" stroke="#ffffff" stroke-width="1.1" opacity="0.10"/>
<polyline points="297.2,595.5 853.8,590.4" fill="none" stroke="#000000" stroke-width="1.3" opacity="0.35"/>
<polyline points="297.2,588.7 853.8,583.8" fill="none" stroke="#ffffff" stroke-width="0.9" opacity="0.13"/>
<polyline points="297.2,589.7 853.8,584.8" fill="none" stroke="#000000" stroke-width="0.9" opacity="0.18"/>
<polygon points="313.5,609.9 837,604.5 837,803.9 313.5,816.7" fill="#1a1a1a" />
<polyline points="313.5,816.7 837,803.9 837,604.5" fill="none" stroke="#060606" stroke-width="1.6" />
<polygon points="832.8,604.5 837,604.5 837,803.9 832.8,804" fill="#08080a" />
<polygon points="313.5,609.9 837,604.5 837,606.2 313.5,611.7" fill="#08080a" />
<polygon points="315.1,814 837,801.4 837,802.7 315.1,815.4" fill="#0a0a0b" />
<polyline points="314.3,815.1 314.3,612.1 832.4,606.7 832.4,802.5" fill="none" stroke="#a9a9ab" stroke-width="1" />
<path d="M328.1 618 L556.5 615.5 Q565 615.4 565 623.8 L565 792.8 Q565 801.1 556.5 801.3 L328.1 806.7 Q319.6 806.9 319.6 798.4 L319.6 626.6 Q319.6 618.1 328.1 618 Z" fill="#0a0a0b" />
<path d="M601.5 615 L817.1 612.7 Q825.6 612.6 825.6 620.8 L825.6 786.7 Q825.6 794.9 817.1 795.1 L601.5 800.2 Q593 800.4 593 792.1 L593 623.5 Q593 615.1 601.5 615 Z" fill="#0a0a0b" />
<path d="M328.1 618 L556.5 615.5 Q565 615.4 565 623.8 L565 792.8 Q565 801.1 556.5 801.3 L328.1 806.7 Q319.6 806.9 319.6 798.4 L319.6 626.6 Q319.6 618.1 328.1 618 Z" fill="url(#gGlassL)" stroke="#8c8c8e" stroke-width="0.9" />
<path d="M601.5 615 L817.1 612.7 Q825.6 612.6 825.6 620.8 L825.6 786.7 Q825.6 794.9 817.1 795.1 L601.5 800.2 Q593 800.4 593 792.1 L593 623.5 Q593 615.1 601.5 615 Z" fill="url(#gGlassR)" stroke="#8c8c8e" stroke-width="0.9" />
<polyline points="352,623.7 352,800.2" fill="none" stroke="#ffffff" stroke-width="1.2" opacity="0.1"/>
<polyline points="372,623.5 372,799.7" fill="none" stroke="#ffffff" stroke-width="1.2" opacity="0.07"/>
<polyline points="470,622.4 470,797.4" fill="none" stroke="#ffffff" stroke-width="1.2" opacity="0.06"/>
<polyline points="500,622.1 500,796.7" fill="none" stroke="#ffffff" stroke-width="1.2" opacity="0.05"/>
<polyline points="520,621.8 520,796.3" fill="none" stroke="#ffffff" stroke-width="1.2" opacity="0.05"/>
<polyline points="671,617.2 671,795.7" fill="none" stroke="#ffffff" stroke-width="3" opacity="0.07"/>
<polyline points="640,617.5 640,796.4" fill="none" stroke="#ffffff" stroke-width="1.1" opacity="0.05"/>
<polyline points="714,616.7 714,794.6" fill="none" stroke="#ffffff" stroke-width="1.1" opacity="0.07"/>
<polyline points="722,616.6 722,794.5" fill="none" stroke="#ffffff" stroke-width="1.1" opacity="0.06"/>
<polyline points="730,616.6 730,794.3" fill="none" stroke="#ffffff" stroke-width="1.1" opacity="0.07"/>
<polyline points="755,616.3 755,793.7" fill="none" stroke="#ffffff" stroke-width="1.1" opacity="0.07"/>
<polyline points="764,616.2 764,793.5" fill="none" stroke="#ffffff" stroke-width="1.1" opacity="0.06"/>
<polyline points="772,616.1 772,793.3" fill="none" stroke="#ffffff" stroke-width="1.1" opacity="0.07"/>
<polyline points="796,615.8 796,792.7" fill="none" stroke="#ffffff" stroke-width="1.1" opacity="0.06"/>
<polyline points="805,615.7 805,792.5" fill="none" stroke="#ffffff" stroke-width="1.1" opacity="0.06"/>
<polyline points="814,615.6 814,792.3" fill="none" stroke="#ffffff" stroke-width="1.1" opacity="0.06"/>
<polygon points="320.2,618.7 387.2,618 320.2,690.1" fill="#0b0b0c" />
<polyline points="384.9,618.4 320.6,687.6" fill="none" stroke="#707070" stroke-width="3.7" />
<polyline points="384.9,618.4 320.6,687.6" fill="none" stroke="#303032" stroke-width="0.9" />
<polyline points="382.9,618.4 320.6,685.6" fill="none" stroke="#cfcfcf" stroke-width="1" />
<polyline points="386.8,618.4 320.6,689.5" fill="none" stroke="#ababab" stroke-width="0.9" />
<polyline points="374.8,618.5 320.6,676.9" fill="none" stroke="#707070" stroke-width="3.7" />
<polyline points="374.8,618.5 320.6,676.9" fill="none" stroke="#303032" stroke-width="0.9" />
<polyline points="372.9,618.5 320.6,674.9" fill="none" stroke="#cfcfcf" stroke-width="1" />
<polyline points="376.8,618.5 320.6,678.8" fill="none" stroke="#ababab" stroke-width="0.9" />
<polyline points="364.8,618.6 320.6,666.2" fill="none" stroke="#707070" stroke-width="3.7" />
<polyline points="364.8,618.6 320.6,666.2" fill="none" stroke="#303032" stroke-width="0.9" />
<polyline points="362.9,618.6 320.6,664.3" fill="none" stroke="#cfcfcf" stroke-width="1" />
<polyline points="366.8,618.6 320.6,668.2" fill="none" stroke="#ababab" stroke-width="0.9" />
<polyline points="354.8,618.7 320.6,655.5" fill="none" stroke="#707070" stroke-width="3.7" />
<polyline points="354.8,618.7 320.6,655.5" fill="none" stroke="#303032" stroke-width="0.9" />
<polyline points="352.8,618.7 320.6,653.6" fill="none" stroke="#cfcfcf" stroke-width="1" />
<polyline points="356.7,618.7 320.6,657.5" fill="none" stroke="#ababab" stroke-width="0.9" />
<polyline points="344.8,618.8 320.6,644.9" fill="none" stroke="#707070" stroke-width="3.7" />
<polyline points="344.8,618.8 320.6,644.9" fill="none" stroke="#303032" stroke-width="0.9" />
<polyline points="342.8,618.8 320.6,642.9" fill="none" stroke="#cfcfcf" stroke-width="1" />
<polyline points="346.7,618.8 320.6,646.8" fill="none" stroke="#ababab" stroke-width="0.9" />
<polyline points="334.7,618.9 320.6,634.2" fill="none" stroke="#707070" stroke-width="3.7" />
<polyline points="334.7,618.9 320.6,634.2" fill="none" stroke="#303032" stroke-width="0.9" />
<polyline points="332.8,618.9 320.6,632.2" fill="none" stroke="#cfcfcf" stroke-width="1" />
<polyline points="336.7,618.9 320.6,636.1" fill="none" stroke="#ababab" stroke-width="0.9" />
<polyline points="325.2,619.4 321,624" fill="none" stroke="#8a8a8c" stroke-width="2.4" stroke-linecap="round"/>
<polygon points="320.2,806.3 387.2,804.7 320.2,735.7" fill="#0b0b0c" />
<polyline points="384.9,804.4 320.6,738.2" fill="none" stroke="#707070" stroke-width="3.7" />
<polyline points="384.9,804.4 320.6,738.2" fill="none" stroke="#303032" stroke-width="0.9" />
<polyline points="382.9,804.4 320.6,740.1" fill="none" stroke="#cfcfcf" stroke-width="1" />
<polyline points="386.8,804.3 320.6,736.2" fill="none" stroke="#ababab" stroke-width="0.9" />
<polyline points="374.8,804.6 320.6,748.7" fill="none" stroke="#707070" stroke-width="3.7" />
<polyline points="374.8,804.6 320.6,748.7" fill="none" stroke="#303032" stroke-width="0.9" />
<polyline points="372.9,804.7 320.6,750.7" fill="none" stroke="#cfcfcf" stroke-width="1" />
<polyline points="376.8,804.6 320.6,746.8" fill="none" stroke="#ababab" stroke-width="0.9" />
<polyline points="364.8,804.9 320.6,759.3" fill="none" stroke="#707070" stroke-width="3.7" />
<polyline points="364.8,804.9 320.6,759.3" fill="none" stroke="#303032" stroke-width="0.9" />
<polyline points="362.9,804.9 320.6,761.3" fill="none" stroke="#cfcfcf" stroke-width="1" />
<polyline points="366.8,804.8 320.6,757.4" fill="none" stroke="#ababab" stroke-width="0.9" />
<polyline points="354.8,805.1 320.6,769.9" fill="none" stroke="#707070" stroke-width="3.7" />
<polyline points="354.8,805.1 320.6,769.9" fill="none" stroke="#303032" stroke-width="0.9" />
<polyline points="352.8,805.1 320.6,771.8" fill="none" stroke="#cfcfcf" stroke-width="1" />
<polyline points="356.7,805.1 320.6,767.9" fill="none" stroke="#ababab" stroke-width="0.9" />
<polyline points="344.8,805.3 320.6,780.4" fill="none" stroke="#707070" stroke-width="3.7" />
<polyline points="344.8,805.3 320.6,780.4" fill="none" stroke="#303032" stroke-width="0.9" />
<polyline points="342.8,805.4 320.6,782.4" fill="none" stroke="#cfcfcf" stroke-width="1" />
<polyline points="346.7,805.3 320.6,778.5" fill="none" stroke="#ababab" stroke-width="0.9" />
<polyline points="334.7,805.6 320.6,791" fill="none" stroke="#707070" stroke-width="3.7" />
<polyline points="334.7,805.6 320.6,791" fill="none" stroke="#303032" stroke-width="0.9" />
<polyline points="332.8,805.6 320.6,792.9" fill="none" stroke="#cfcfcf" stroke-width="1" />
<polyline points="336.7,805.5 320.6,789" fill="none" stroke="#ababab" stroke-width="0.9" />
<polyline points="325.2,805.4 321,801" fill="none" stroke="#8a8a8c" stroke-width="2.4" stroke-linecap="round"/>
<polygon points="825,613.2 756.5,613.9 825,686.3" fill="#0b0b0c" />
<polyline points="758.9,614.3 824.6,683.7" fill="none" stroke="#707070" stroke-width="3.7" />
<polyline points="758.9,614.3 824.6,683.7" fill="none" stroke="#303032" stroke-width="0.9" />
<polyline points="760.8,614.3 824.6,681.8" fill="none" stroke="#cfcfcf" stroke-width="1" />
<polyline points="756.9,614.3 824.6,685.6" fill="none" stroke="#ababab" stroke-width="0.9" />
<polyline points="769.1,614.2 824.6,672.8" fill="none" stroke="#707070" stroke-width="3.7" />
<polyline points="769.1,614.2 824.6,672.8" fill="none" stroke="#303032" stroke-width="0.9" />
<polyline points="771.1,614.2 824.6,670.9" fill="none" stroke="#cfcfcf" stroke-width="1" />
<polyline points="767.2,614.2 824.6,674.7" fill="none" stroke="#ababab" stroke-width="0.9" />
<polyline points="779.4,614.1 824.6,661.9" fill="none" stroke="#707070" stroke-width="3.7" />
<polyline points="779.4,614.1 824.6,661.9" fill="none" stroke="#303032" stroke-width="0.9" />
<polyline points="781.3,614.1 824.6,660" fill="none" stroke="#cfcfcf" stroke-width="1" />
<polyline points="777.4,614.1 824.6,663.7" fill="none" stroke="#ababab" stroke-width="0.9" />
<polyline points="789.6,614 824.6,650.9" fill="none" stroke="#707070" stroke-width="3.7" />
<polyline points="789.6,614 824.6,650.9" fill="none" stroke="#303032" stroke-width="0.9" />
<polyline points="791.6,613.9 824.6,649" fill="none" stroke="#cfcfcf" stroke-width="1" />
<polyline points="787.7,614 824.6,652.8" fill="none" stroke="#ababab" stroke-width="0.9" />
<polyline points="799.9,613.9 824.6,640" fill="none" stroke="#707070" stroke-width="3.7" />
<polyline points="799.9,613.9 824.6,640" fill="none" stroke="#303032" stroke-width="0.9" />
<polyline points="801.8,613.8 824.6,638.1" fill="none" stroke="#cfcfcf" stroke-width="1" />
<polyline points="797.9,613.9 824.6,641.9" fill="none" stroke="#ababab" stroke-width="0.9" />
<polyline points="810.1,613.7 824.6,629.1" fill="none" stroke="#707070" stroke-width="3.7" />
<polyline points="810.1,613.7 824.6,629.1" fill="none" stroke="#303032" stroke-width="0.9" />
<polyline points="812.1,613.7 824.6,627.2" fill="none" stroke="#cfcfcf" stroke-width="1" />
<polyline points="808.2,613.8 824.6,630.9" fill="none" stroke="#ababab" stroke-width="0.9" />
<polyline points="819.9,614 824.2,618.7" fill="none" stroke="#8a8a8c" stroke-width="2.4" stroke-linecap="round"/>
<polygon points="825,794.3 756.5,796 825,721.6" fill="#0b0b0c" />
<polyline points="758.9,795.5 824.6,724.1" fill="none" stroke="#707070" stroke-width="3.7" />
<polyline points="758.9,795.5 824.6,724.1" fill="none" stroke="#303032" stroke-width="0.9" />
<polyline points="760.8,795.5 824.6,726" fill="none" stroke="#cfcfcf" stroke-width="1" />
<polyline points="756.9,795.6 824.6,722.2" fill="none" stroke="#ababab" stroke-width="0.9" />
<polyline points="769.1,795.3 824.6,735" fill="none" stroke="#707070" stroke-width="3.7" />
<polyline points="769.1,795.3 824.6,735" fill="none" stroke="#303032" stroke-width="0.9" />
<polyline points="771.1,795.2 824.6,736.9" fill="none" stroke="#cfcfcf" stroke-width="1" />
<polyline points="767.2,795.3 824.6,733.1" fill="none" stroke="#ababab" stroke-width="0.9" />
<polyline points="779.4,795 824.6,745.9" fill="none" stroke="#707070" stroke-width="3.7" />
<polyline points="779.4,795 824.6,745.9" fill="none" stroke="#303032" stroke-width="0.9" />
<polyline points="781.3,795 824.6,747.8" fill="none" stroke="#cfcfcf" stroke-width="1" />
<polyline points="777.4,795.1 824.6,744" fill="none" stroke="#ababab" stroke-width="0.9" />
<polyline points="789.6,794.8 824.6,756.8" fill="none" stroke="#707070" stroke-width="3.7" />
<polyline points="789.6,794.8 824.6,756.8" fill="none" stroke="#303032" stroke-width="0.9" />
<polyline points="791.6,794.8 824.6,758.7" fill="none" stroke="#cfcfcf" stroke-width="1" />
<polyline points="787.7,794.8 824.6,754.9" fill="none" stroke="#ababab" stroke-width="0.9" />
<polyline points="799.9,794.6 824.6,767.7" fill="none" stroke="#707070" stroke-width="3.7" />
<polyline points="799.9,794.6 824.6,767.7" fill="none" stroke="#303032" stroke-width="0.9" />
<polyline points="801.8,794.5 824.6,769.6" fill="none" stroke="#cfcfcf" stroke-width="1" />
<polyline points="797.9,794.6 824.6,765.8" fill="none" stroke="#ababab" stroke-width="0.9" />
<polyline points="810.1,794.3 824.6,778.6" fill="none" stroke="#707070" stroke-width="3.7" />
<polyline points="810.1,794.3 824.6,778.6" fill="none" stroke="#303032" stroke-width="0.9" />
<polyline points="812.1,794.3 824.6,780.4" fill="none" stroke="#cfcfcf" stroke-width="1" />
<polyline points="808.2,794.4 824.6,776.7" fill="none" stroke="#ababab" stroke-width="0.9" />
<polyline points="819.9,793.7 824.2,788.9" fill="none" stroke="#8a8a8c" stroke-width="2.4" stroke-linecap="round"/>
<polygon points="572.5,608.2 584,608.1 584,809.1 572.5,809.4" fill="#101011" />
<polyline points="575.4,608.2 575.4,809.3" fill="none" stroke="#8a8a8d" stroke-width="1.3" />
<polyline points="581,608.1 581,809.2" fill="none" stroke="#8a8a8d" stroke-width="1.3" />
<circle cx="575" cy="609.3" r="1.6" fill="#8a8a8c"/>
<circle cx="581.4" cy="609.3" r="1.6" fill="#8a8a8c"/>
<circle cx="575" cy="808.1" r="1.6" fill="#8a8a8c"/>
<circle cx="581.4" cy="808" r="1.6" fill="#8a8a8c"/>
<polygon points="297.2,829.1 853.8,815 853.8,842 297.2,857.1" fill="url(#gLip)" />
<polyline points="297.2,829.7 853.8,815.6" fill="none" stroke="#ffffff" stroke-width="1.1" opacity="0.10"/>
<polyline points="297.2,857.1 853.8,842" fill="none" stroke="#000000" stroke-width="1.3" opacity="0.35"/>
<polyline points="297.2,850.3 853.8,835.4" fill="none" stroke="#ffffff" stroke-width="0.9" opacity="0.13"/>
<polyline points="297.2,851.3 853.8,836.4" fill="none" stroke="#000000" stroke-width="0.9" opacity="0.18"/>
<polygon points="313.5,871.9 837,857.2 837,1056.8 313.5,1078.9" fill="#1a1a1a" />
<polyline points="313.5,1078.9 837,1056.8 837,857.2" fill="none" stroke="#060606" stroke-width="1.6" />
<polygon points="832.8,857.3 837,857.2 837,1056.8 832.8,1056.9" fill="#08080a" />
<polygon points="313.5,871.9 837,857.2 837,858.9 313.5,873.7" fill="#08080a" />
<polygon points="315.1,1076.3 837,1054.2 837,1055.6 315.1,1077.7" fill="#0a0a0b" />
<polyline points="314.3,1077.3 314.3,874.1 832.4,859.4 832.4,1055.4" fill="none" stroke="#a9a9ab" stroke-width="1" />
<path d="M328.1 880.2 L556.5 873.6 Q565 873.4 565 881.7 L565 1049.6 Q565 1058 556.5 1058.3 L328.1 1067.8 Q319.6 1068.2 319.6 1059.7 L319.6 888.9 Q319.6 880.4 328.1 880.2 Z" fill="#0a0a0b" />
<path d="M601.5 872.3 L817.1 866.1 Q825.6 865.9 825.6 874.1 L825.6 1038.9 Q825.6 1047.1 817.1 1047.5 L601.5 1056.4 Q593 1056.8 593 1048.5 L593 880.9 Q593 872.6 601.5 872.3 Z" fill="#0a0a0b" />
<path d="M328.1 880.2 L556.5 873.6 Q565 873.4 565 881.7 L565 1049.6 Q565 1058 556.5 1058.3 L328.1 1067.8 Q319.6 1068.2 319.6 1059.7 L319.6 888.9 Q319.6 880.4 328.1 880.2 Z" fill="url(#gGlassL)" stroke="#8c8c8e" stroke-width="0.9" />
<path d="M601.5 872.3 L817.1 866.1 Q825.6 865.9 825.6 874.1 L825.6 1038.9 Q825.6 1047.1 817.1 1047.5 L601.5 1056.4 Q593 1056.8 593 1048.5 L593 880.9 Q593 872.6 601.5 872.3 Z" fill="url(#gGlassR)" stroke="#8c8c8e" stroke-width="0.9" />
<polyline points="352,885.5 352,1060.9" fill="none" stroke="#ffffff" stroke-width="1.2" opacity="0.1"/>
<polyline points="372,884.9 372,1060" fill="none" stroke="#ffffff" stroke-width="1.2" opacity="0.07"/>
<polyline points="470,882 470,1056" fill="none" stroke="#ffffff" stroke-width="1.2" opacity="0.06"/>
<polyline points="500,881.2 500,1054.8" fill="none" stroke="#ffffff" stroke-width="1.2" opacity="0.05"/>
<polyline points="520,880.6 520,1053.9" fill="none" stroke="#ffffff" stroke-width="1.2" opacity="0.05"/>
<polyline points="671,873.2 671,1050.6" fill="none" stroke="#ffffff" stroke-width="3" opacity="0.07"/>
<polyline points="640,874.1 640,1051.9" fill="none" stroke="#ffffff" stroke-width="1.1" opacity="0.05"/>
<polyline points="714,872 714,1048.8" fill="none" stroke="#ffffff" stroke-width="1.1" opacity="0.07"/>
<polyline points="722,871.8 722,1048.5" fill="none" stroke="#ffffff" stroke-width="1.1" opacity="0.06"/>
<polyline points="730,871.5 730,1048.2" fill="none" stroke="#ffffff" stroke-width="1.1" opacity="0.07"/>
<polyline points="755,870.8 755,1047.1" fill="none" stroke="#ffffff" stroke-width="1.1" opacity="0.07"/>
<polyline points="764,870.5 764,1046.8" fill="none" stroke="#ffffff" stroke-width="1.1" opacity="0.06"/>
<polyline points="772,870.3 772,1046.4" fill="none" stroke="#ffffff" stroke-width="1.1" opacity="0.07"/>
<polyline points="796,869.6 796,1045.4" fill="none" stroke="#ffffff" stroke-width="1.1" opacity="0.06"/>
<polyline points="805,869.4 805,1045.1" fill="none" stroke="#ffffff" stroke-width="1.1" opacity="0.06"/>
<polyline points="814,869.1 814,1044.7" fill="none" stroke="#ffffff" stroke-width="1.1" opacity="0.06"/>
<polygon points="320.2,881 387.2,879.1 320.2,952.4" fill="#0b0b0c" />
<polyline points="384.9,879.6 320.6,949.9" fill="none" stroke="#707070" stroke-width="3.7" />
<polyline points="384.9,879.6 320.6,949.9" fill="none" stroke="#303032" stroke-width="0.9" />
<polyline points="382.9,879.6 320.6,948" fill="none" stroke="#cfcfcf" stroke-width="1" />
<polyline points="386.8,879.5 320.6,951.9" fill="none" stroke="#ababab" stroke-width="0.9" />
<polyline points="374.8,879.8 320.6,939.2" fill="none" stroke="#707070" stroke-width="3.7" />
<polyline points="374.8,879.8 320.6,939.2" fill="none" stroke="#303032" stroke-width="0.9" />
<polyline points="372.9,879.9 320.6,937.3" fill="none" stroke="#cfcfcf" stroke-width="1" />
<polyline points="376.8,879.8 320.6,941.2" fill="none" stroke="#ababab" stroke-width="0.9" />
<polyline points="364.8,880.1 320.6,928.5" fill="none" stroke="#707070" stroke-width="3.7" />
<polyline points="364.8,880.1 320.6,928.5" fill="none" stroke="#303032" stroke-width="0.9" />
<polyline points="362.9,880.2 320.6,926.6" fill="none" stroke="#cfcfcf" stroke-width="1" />
<polyline points="366.8,880.1 320.6,930.5" fill="none" stroke="#ababab" stroke-width="0.9" />
<polyline points="354.8,880.4 320.6,917.9" fill="none" stroke="#707070" stroke-width="3.7" />
<polyline points="354.8,880.4 320.6,917.9" fill="none" stroke="#303032" stroke-width="0.9" />
<polyline points="352.8,880.5 320.6,915.9" fill="none" stroke="#cfcfcf" stroke-width="1" />
<polyline points="356.7,880.4 320.6,919.8" fill="none" stroke="#ababab" stroke-width="0.9" />
<polyline points="344.8,880.7 320.6,907.2" fill="none" stroke="#707070" stroke-width="3.7" />
<polyline points="344.8,880.7 320.6,907.2" fill="none" stroke="#303032" stroke-width="0.9" />
<polyline points="342.8,880.8 320.6,905.2" fill="none" stroke="#cfcfcf" stroke-width="1" />
<polyline points="346.7,880.7 320.6,909.1" fill="none" stroke="#ababab" stroke-width="0.9" />
<polyline points="334.7,881 320.6,896.5" fill="none" stroke="#707070" stroke-width="3.7" />
<polyline points="334.7,881 320.6,896.5" fill="none" stroke="#303032" stroke-width="0.9" />
<polyline points="332.8,881.1 320.6,894.6" fill="none" stroke="#cfcfcf" stroke-width="1" />
<polyline points="336.7,880.9 320.6,898.4" fill="none" stroke="#ababab" stroke-width="0.9" />
<polyline points="325.2,881.7 321,886.3" fill="none" stroke="#8a8a8c" stroke-width="2.4" stroke-linecap="round"/>
<polygon points="320.2,1067.6 387.2,1064.8 320.2,997" fill="#0b0b0c" />
<polyline points="384.9,1064.5 320.6,999.4" fill="none" stroke="#707070" stroke-width="3.7" />
<polyline points="384.9,1064.5 320.6,999.4" fill="none" stroke="#303032" stroke-width="0.9" />
<polyline points="382.9,1064.6 320.6,1001.4" fill="none" stroke="#cfcfcf" stroke-width="1" />
<polyline points="386.8,1064.4 320.6,997.5" fill="none" stroke="#ababab" stroke-width="0.9" />
<polyline points="374.8,1064.9 320.6,1010" fill="none" stroke="#707070" stroke-width="3.7" />
<polyline points="374.8,1064.9 320.6,1010" fill="none" stroke="#303032" stroke-width="0.9" />
<polyline points="372.9,1065 320.6,1011.9" fill="none" stroke="#cfcfcf" stroke-width="1" />
<polyline points="376.8,1064.8 320.6,1008" fill="none" stroke="#ababab" stroke-width="0.9" />
<polyline points="364.8,1065.3 320.6,1020.5" fill="none" stroke="#707070" stroke-width="3.7" />
<polyline points="364.8,1065.3 320.6,1020.5" fill="none" stroke="#303032" stroke-width="0.9" />
<polyline points="362.9,1065.4 320.6,1022.5" fill="none" stroke="#cfcfcf" stroke-width="1" />
<polyline points="366.8,1065.2 320.6,1018.6" fill="none" stroke="#ababab" stroke-width="0.9" />
<polyline points="354.8,1065.7 320.6,1031.1" fill="none" stroke="#707070" stroke-width="3.7" />
<polyline points="354.8,1065.7 320.6,1031.1" fill="none" stroke="#303032" stroke-width="0.9" />
<polyline points="352.8,1065.8 320.6,1033" fill="none" stroke="#cfcfcf" stroke-width="1" />
<polyline points="356.7,1065.6 320.6,1029.2" fill="none" stroke="#ababab" stroke-width="0.9" />
<polyline points="344.8,1066.1 320.6,1041.7" fill="none" stroke="#707070" stroke-width="3.7" />
<polyline points="344.8,1066.1 320.6,1041.7" fill="none" stroke="#303032" stroke-width="0.9" />
<polyline points="342.8,1066.2 320.6,1043.6" fill="none" stroke="#cfcfcf" stroke-width="1" />
<polyline points="346.7,1066.1 320.6,1039.7" fill="none" stroke="#ababab" stroke-width="0.9" />
<polyline points="334.7,1066.6 320.6,1052.2" fill="none" stroke="#707070" stroke-width="3.7" />
<polyline points="334.7,1066.6 320.6,1052.2" fill="none" stroke="#303032" stroke-width="0.9" />
<polyline points="332.8,1066.6 320.6,1054.2" fill="none" stroke="#cfcfcf" stroke-width="1" />
<polyline points="336.7,1066.5 320.6,1050.3" fill="none" stroke="#ababab" stroke-width="0.9" />
<polyline points="325.2,1066.6 321,1062.2" fill="none" stroke="#8a8a8c" stroke-width="2.4" stroke-linecap="round"/>
<polygon points="825,866.5 756.5,868.4 825,939.5" fill="#0b0b0c" />
<polyline points="758.9,868.8 824.6,937" fill="none" stroke="#707070" stroke-width="3.7" />
<polyline points="758.9,868.8 824.6,937" fill="none" stroke="#303032" stroke-width="0.9" />
<polyline points="760.8,868.7 824.6,935.1" fill="none" stroke="#cfcfcf" stroke-width="1" />
<polyline points="756.9,868.8 824.6,938.9" fill="none" stroke="#ababab" stroke-width="0.9" />
<polyline points="769.1,868.5 824.6,926.1" fill="none" stroke="#707070" stroke-width="3.7" />
<polyline points="769.1,868.5 824.6,926.1" fill="none" stroke="#303032" stroke-width="0.9" />
<polyline points="771.1,868.4 824.6,924.2" fill="none" stroke="#cfcfcf" stroke-width="1" />
<polyline points="767.2,868.5 824.6,927.9" fill="none" stroke="#ababab" stroke-width="0.9" />
<polyline points="779.4,868.2 824.6,915.1" fill="none" stroke="#707070" stroke-width="3.7" />
<polyline points="779.4,868.2 824.6,915.1" fill="none" stroke="#303032" stroke-width="0.9" />
<polyline points="781.3,868.1 824.6,913.3" fill="none" stroke="#cfcfcf" stroke-width="1" />
<polyline points="777.4,868.2 824.6,917" fill="none" stroke="#ababab" stroke-width="0.9" />
<polyline points="789.6,867.9 824.6,904.2" fill="none" stroke="#707070" stroke-width="3.7" />
<polyline points="789.6,867.9 824.6,904.2" fill="none" stroke="#303032" stroke-width="0.9" />
<polyline points="791.6,867.8 824.6,902.3" fill="none" stroke="#cfcfcf" stroke-width="1" />
<polyline points="787.7,867.9 824.6,906.1" fill="none" stroke="#ababab" stroke-width="0.9" />
<polyline points="799.9,867.6 824.6,893.3" fill="none" stroke="#707070" stroke-width="3.7" />
<polyline points="799.9,867.6 824.6,893.3" fill="none" stroke="#303032" stroke-width="0.9" />
<polyline points="801.8,867.5 824.6,891.4" fill="none" stroke="#cfcfcf" stroke-width="1" />
<polyline points="797.9,867.6 824.6,895.1" fill="none" stroke="#ababab" stroke-width="0.9" />
<polyline points="810.1,867.3 824.6,882.3" fill="none" stroke="#707070" stroke-width="3.7" />
<polyline points="810.1,867.3 824.6,882.3" fill="none" stroke="#303032" stroke-width="0.9" />
<polyline points="812.1,867.2 824.6,880.5" fill="none" stroke="#cfcfcf" stroke-width="1" />
<polyline points="808.2,867.3 824.6,884.2" fill="none" stroke="#ababab" stroke-width="0.9" />
<polyline points="819.9,867.4 824.2,872" fill="none" stroke="#8a8a8c" stroke-width="2.4" stroke-linecap="round"/>
<polygon points="825,1046.6 756.5,1049.4 825,973.8" fill="#0b0b0c" />
<polyline points="758.9,1048.9 824.6,976.3" fill="none" stroke="#707070" stroke-width="3.7" />
<polyline points="758.9,1048.9 824.6,976.3" fill="none" stroke="#303032" stroke-width="0.9" />
<polyline points="760.8,1048.8 824.6,978.2" fill="none" stroke="#cfcfcf" stroke-width="1" />
<polyline points="756.9,1049 824.6,974.5" fill="none" stroke="#ababab" stroke-width="0.9" />
<polyline points="769.1,1048.5 824.6,987.2" fill="none" stroke="#707070" stroke-width="3.7" />
<polyline points="769.1,1048.5 824.6,987.2" fill="none" stroke="#303032" stroke-width="0.9" />
<polyline points="771.1,1048.4 824.6,989.1" fill="none" stroke="#cfcfcf" stroke-width="1" />
<polyline points="767.2,1048.6 824.6,985.3" fill="none" stroke="#ababab" stroke-width="0.9" />
<polyline points="779.4,1048.1 824.6,998.1" fill="none" stroke="#707070" stroke-width="3.7" />
<polyline points="779.4,1048.1 824.6,998.1" fill="none" stroke="#303032" stroke-width="0.9" />
<polyline points="781.3,1048 824.6,1000" fill="none" stroke="#cfcfcf" stroke-width="1" />
<polyline points="777.4,1048.1 824.6,996.2" fill="none" stroke="#ababab" stroke-width="0.9" />
<polyline points="789.6,1047.6 824.6,1009" fill="none" stroke="#707070" stroke-width="3.7" />
<polyline points="789.6,1047.6 824.6,1009" fill="none" stroke="#303032" stroke-width="0.9" />
<polyline points="791.6,1047.6 824.6,1010.9" fill="none" stroke="#cfcfcf" stroke-width="1" />
<polyline points="787.7,1047.7 824.6,1007.1" fill="none" stroke="#ababab" stroke-width="0.9" />
<polyline points="799.9,1047.2 824.6,1019.9" fill="none" stroke="#707070" stroke-width="3.7" />
<polyline points="799.9,1047.2 824.6,1019.9" fill="none" stroke="#303032" stroke-width="0.9" />
<polyline points="801.8,1047.1 824.6,1021.8" fill="none" stroke="#cfcfcf" stroke-width="1" />
<polyline points="797.9,1047.3 824.6,1018" fill="none" stroke="#ababab" stroke-width="0.9" />
<polyline points="810.1,1046.8 824.6,1030.8" fill="none" stroke="#707070" stroke-width="3.7" />
<polyline points="810.1,1046.8 824.6,1030.8" fill="none" stroke="#303032" stroke-width="0.9" />
<polyline points="812.1,1046.7 824.6,1032.7" fill="none" stroke="#cfcfcf" stroke-width="1" />
<polyline points="808.2,1046.9 824.6,1028.9" fill="none" stroke="#ababab" stroke-width="0.9" />
<polyline points="819.9,1046 824.2,1041.1" fill="none" stroke="#8a8a8c" stroke-width="2.4" stroke-linecap="round"/>
<polygon points="572.5,865.6 584,865.3 584,1066.5 572.5,1067" fill="#101011" />
<polyline points="575.4,865.5 575.4,1066.9" fill="none" stroke="#8a8a8d" stroke-width="1.3" />
<polyline points="581,865.4 581,1066.6" fill="none" stroke="#8a8a8d" stroke-width="1.3" />
<circle cx="575" cy="866.7" r="1.6" fill="#8a8a8c"/>
<circle cx="581.4" cy="866.5" r="1.6" fill="#8a8a8c"/>
<circle cx="575" cy="1065.7" r="1.6" fill="#8a8a8c"/>
<circle cx="581.4" cy="1065.4" r="1.6" fill="#8a8a8c"/>
<polygon points="844,338.7 850.6,338.7 850.6,562 844,562.1" fill="#646464" />
<polyline points="844,338.7 844,562.1" fill="none" stroke="#3c3c3c" stroke-width="0.8" />
<polygon points="844,590.9 850.6,590.9 850.6,814.1 844,814.3" fill="#646464" />
<polyline points="844,590.9 844,814.3" fill="none" stroke="#3c3c3c" stroke-width="0.8" />
<polygon points="844,842.7 850.6,842.5 850.6,1087.5 844,1087.7" fill="#646464" />
<polyline points="844,842.7 844,1087.7" fill="none" stroke="#3c3c3c" stroke-width="0.8" />
<polygon points="850.6,338.7 852.3,338.8 852.3,1087.4 850.6,1087.5" fill="#c2c2c2" />
<polygon points="852.3,327.2 854.3,327.2 854.3,1095 852.3,1095.1" fill="#2c2c2c" />
<polygon points="852.4,583.2 856.2,583.1 856.2,590.8 852.4,590.9" fill="#262626" />
<polygon points="852.4,834.8 856.2,834.7 856.2,842.4 852.4,842.5" fill="#262626" />
<polygon points="852.4,326.2 856,326.3 856,338.3 852.4,338.3" fill="#3a3a3a" />
<polygon points="297.2,321 853.8,326.3 853.8,1095.6 297.2,1120.7" fill="url(#gShade)" />
<path d="M568 418.9 q-10 2 -10.5 14 v35.5 q0.5 12 10.5 14 z" fill="#060606" stroke="#8c5a48" stroke-width="1.1"/>
<rect x="567.5" y="417.9" width="14" height="65.5" rx="4" fill="#140906"/>
<rect x="571.9" y="425.9" width="4.2" height="49.5" fill="#c67a5f"/>
<rect x="575.5" y="430.9" width="1" height="39.5" fill="#5a2a1c"/>
<rect x="575.7" y="424.9" width="5.6" height="49.5" fill="#fbe6dc"/>
<path d="M569.7 431.9 q0 -12 6 -14 q6 -1 6.5 10 v6 h-6 z" fill="#f7dccf"/>
<path d="M569.9 431.9 q1 -9 5 -12" fill="none" stroke="#c67a5f" stroke-width="2"/>
<path d="M569.7 470.4 q0 11 5 13 q6 1 7.5 -9 v-5 h-6 z" fill="#f3cfc0"/>
<path d="M578.3 472.4 q-1 7 -3.4 10.5" fill="none" stroke="#8a4632" stroke-width="1.6"/>
<rect x="584" y="417.9" width="14.5" height="65.5" rx="4" fill="#140906"/>
<rect x="588.4" y="425.9" width="4.2" height="49.5" fill="#c67a5f"/>
<rect x="592" y="430.9" width="1" height="39.5" fill="#5a2a1c"/>
<rect x="592.7" y="424.9" width="5.6" height="49.5" fill="#fbe6dc"/>
<path d="M586.2 431.9 q0 -12 6 -14 q6 -1 6.5 10 v6 h-6 z" fill="#f7dccf"/>
<path d="M586.4 431.9 q1 -9 5 -12" fill="none" stroke="#c67a5f" stroke-width="2"/>
<path d="M586.2 470.4 q0 11 5 13 q6 1 7.5 -9 v-5 h-6 z" fill="#f3cfc0"/>
<path d="M595.3 472.4 q-1 7 -3.4 10.5" fill="none" stroke="#8a4632" stroke-width="1.6"/>
<path d="M568 677 q-10 2 -10.5 14 v35.5 q0.5 12 10.5 14 z" fill="#060606" stroke="#8c5a48" stroke-width="1.1"/>
<rect x="567.5" y="676" width="14" height="65.5" rx="4" fill="#140906"/>
<rect x="571.9" y="684" width="4.2" height="49.5" fill="#c67a5f"/>
<rect x="575.5" y="689" width="1" height="39.5" fill="#5a2a1c"/>
<rect x="575.7" y="683" width="5.6" height="49.5" fill="#fbe6dc"/>
<path d="M569.7 690 q0 -12 6 -14 q6 -1 6.5 10 v6 h-6 z" fill="#f7dccf"/>
<path d="M569.9 690 q1 -9 5 -12" fill="none" stroke="#c67a5f" stroke-width="2"/>
<path d="M569.7 728.5 q0 11 5 13 q6 1 7.5 -9 v-5 h-6 z" fill="#f3cfc0"/>
<path d="M578.3 730.5 q-1 7 -3.4 10.5" fill="none" stroke="#8a4632" stroke-width="1.6"/>
<rect x="584" y="676" width="14.5" height="65.5" rx="4" fill="#140906"/>
<rect x="588.4" y="684" width="4.2" height="49.5" fill="#c67a5f"/>
<rect x="592" y="689" width="1" height="39.5" fill="#5a2a1c"/>
<rect x="592.7" y="683" width="5.6" height="49.5" fill="#fbe6dc"/>
<path d="M586.2 690 q0 -12 6 -14 q6 -1 6.5 10 v6 h-6 z" fill="#f7dccf"/>
<path d="M586.4 690 q1 -9 5 -12" fill="none" stroke="#c67a5f" stroke-width="2"/>
<path d="M586.2 728.5 q0 11 5 13 q6 1 7.5 -9 v-5 h-6 z" fill="#f3cfc0"/>
<path d="M595.3 730.5 q-1 7 -3.4 10.5" fill="none" stroke="#8a4632" stroke-width="1.6"/>
<path d="M568 934.4 q-10 2 -10.5 14 v35.5 q0.5 12 10.5 14 z" fill="#060606" stroke="#8c5a48" stroke-width="1.1"/>
<rect x="567.5" y="933.4" width="14" height="65.5" rx="4" fill="#140906"/>
<rect x="571.9" y="941.4" width="4.2" height="49.5" fill="#c67a5f"/>
<rect x="575.5" y="946.4" width="1" height="39.5" fill="#5a2a1c"/>
<rect x="575.7" y="940.4" width="5.6" height="49.5" fill="#fbe6dc"/>
<path d="M569.7 947.4 q0 -12 6 -14 q6 -1 6.5 10 v6 h-6 z" fill="#f7dccf"/>
<path d="M569.9 947.4 q1 -9 5 -12" fill="none" stroke="#c67a5f" stroke-width="2"/>
<path d="M569.7 986 q0 11 5 13 q6 1 7.5 -9 v-5 h-6 z" fill="#f3cfc0"/>
<path d="M578.3 988 q-1 7 -3.4 10.5" fill="none" stroke="#8a4632" stroke-width="1.6"/>
<rect x="584" y="933.4" width="14.5" height="65.5" rx="4" fill="#140906"/>
<rect x="588.4" y="941.4" width="4.2" height="49.5" fill="#c67a5f"/>
<rect x="592" y="946.4" width="1" height="39.5" fill="#5a2a1c"/>
<rect x="592.7" y="940.4" width="5.6" height="49.5" fill="#fbe6dc"/>
<path d="M586.2 947.4 q0 -12 6 -14 q6 -1 6.5 10 v6 h-6 z" fill="#f7dccf"/>
<path d="M586.4 947.4 q1 -9 5 -12" fill="none" stroke="#c67a5f" stroke-width="2"/>
<path d="M586.2 986 q0 11 5 13 q6 1 7.5 -9 v-5 h-6 z" fill="#f3cfc0"/>
<path d="M595.3 988 q-1 7 -3.4 10.5" fill="none" stroke="#8a4632" stroke-width="1.6"/>
</g>
<path d="M1445 2 H1047 A97.5 97.5 0 0 0 1047 197 H1445 Z" fill="#9e7659"/>
<g id="lid">
<polygon points="999.8,425 999.8,429.2 1315,516.7 1320.4,515.5 1403.1,448.2 1403.1,444 1315.9,512.2" fill="#3c3c3c"/>
<polygon points="1001,424.4 1094.2,363.7 1401.9,444 1315.9,511.6" fill="url(#gLidRim)" stroke="#5a5a5a" stroke-width="2" stroke-linejoin="round"/>
<polyline points="1001,424.4 1094.2,363.7 1401.9,444" fill="none" stroke="#7a7a7a" stroke-width="0.9"/>
<polygon points="1348.6,487.5 1373.9,467.6 1373.9,471.4 1348.6,491.4" fill="#3a3a3a"/>
<polygon points="1009,423.2 1094.2,368.5 1393.6,445.2 1314.4,505.1" fill="#050505" stroke-linejoin="round"/>
<polygon points="1016.2,421.7 1094.2,372.3 1385.2,447.9 1313.5,500.9" fill="url(#gLidTop)" stroke="#8a8a8a" stroke-width="1.0" stroke-linejoin="round"/>
<path d="M1034.6 413.7 C1133.2 424.5 1263.6 458.5 1322.7 489.9" fill="none" stroke="#3c3c3c" stroke-width="1.8"/>
<path d="M1034.6 413.7 C1133.2 424.5 1263.6 458.5 1322.7 489.9" fill="none" stroke="#d0d0d0" stroke-width="1.2" transform="translate(0 1.7)"/>
<path d="M1040.1 409.9 C1134 423.1 1264.4 457.1 1330.1 484.9" fill="none" stroke="#3c3c3c" stroke-width="1.8"/>
<path d="M1040.1 409.9 C1134 423.1 1264.4 457.1 1330.1 484.9" fill="none" stroke="#d0d0d0" stroke-width="1.2" transform="translate(0 1.7)"/>
<path d="M1045.5 406.2 C1134.8 421.6 1265.2 455.6 1337.5 479.8" fill="none" stroke="#3c3c3c" stroke-width="1.8"/>
<path d="M1045.5 406.2 C1134.8 421.6 1265.2 455.6 1337.5 479.8" fill="none" stroke="#d0d0d0" stroke-width="1.2" transform="translate(0 1.7)"/>
<path d="M1051 402.5 C1135.6 420.2 1266 454.2 1344.9 474.8" fill="none" stroke="#3c3c3c" stroke-width="1.8"/>
<path d="M1051 402.5 C1135.6 420.2 1266 454.2 1344.9 474.8" fill="none" stroke="#d0d0d0" stroke-width="1.2" transform="translate(0 1.7)"/>
<path d="M1056.4 398.7 C1136.3 418.7 1266.8 452.7 1352.3 469.8" fill="none" stroke="#3c3c3c" stroke-width="1.8"/>
<path d="M1056.4 398.7 C1136.3 418.7 1266.8 452.7 1352.3 469.8" fill="none" stroke="#d0d0d0" stroke-width="1.2" transform="translate(0 1.7)"/>
<path d="M1061.9 395 C1137.1 417.3 1267.6 451.3 1359.7 464.8" fill="none" stroke="#3c3c3c" stroke-width="1.8"/>
<path d="M1061.9 395 C1137.1 417.3 1267.6 451.3 1359.7 464.8" fill="none" stroke="#d0d0d0" stroke-width="1.2" transform="translate(0 1.7)"/>
<path d="M1067.3 391.2 C1137.9 415.9 1268.4 449.8 1367.1 459.8" fill="none" stroke="#3c3c3c" stroke-width="1.8"/>
<path d="M1067.3 391.2 C1137.9 415.9 1268.4 449.8 1367.1 459.8" fill="none" stroke="#d0d0d0" stroke-width="1.2" transform="translate(0 1.7)"/>
<path d="M1072.7 387.5 C1138.7 414.4 1269.2 448.4 1374.5 454.8" fill="none" stroke="#3c3c3c" stroke-width="1.8"/>
<path d="M1072.7 387.5 C1138.7 414.4 1269.2 448.4 1374.5 454.8" fill="none" stroke="#d0d0d0" stroke-width="1.2" transform="translate(0 1.7)"/>
</g>
<g id="boxes">
<polygon points="1013,853.2 1316.9,947.6 1316.9,976.7 1013,880.9" fill="#2b2b2b" />
<polygon points="1013,854.7 1316.9,949.2 1316.9,961.6 1013,866.5" fill="#404040" />
<polyline points="1013,867 1316.9,962.2" fill="none" stroke="#0e0e0f" stroke-width="2.2" />
<polyline points="1013,869 1316.9,964.3" fill="none" stroke="#505050" stroke-width="0.9" />
<polygon points="1316.9,947.6 1399.7,874.1 1399.7,902.7 1316.9,976.7" fill="#202020" />
<polyline points="1321,956.1 1395.6,889.8" fill="none" stroke="#5e5e5e" stroke-width="2" />
<polyline points="1321,958.8 1395.6,892.4" fill="none" stroke="#0a0a0a" stroke-width="1.5" />
<polygon points="1331,936.2 1339.3,928.8 1339.3,933 1331,940.3" fill="#3c3c3c" />
<polygon points="1354.2,915.6 1362.4,908.2 1362.4,912.4 1354.2,919.7" fill="#3c3c3c" />
<polygon points="1377.3,895 1385.6,887.6 1385.6,891.8 1377.3,899.1" fill="#3c3c3c" />
<polygon points="1122.4,890.2 1213.6,918.6 1213.6,929.8 1122.4,901.3" fill="#0a0a0b" />
<polygon points="1134.6,896.6 1174.1,908.9 1174.1,912 1134.6,899.6" fill="#b8b8b8" />
<polygon points="1169.5,908.5 1181.7,912.3 1181.7,917.9 1169.5,914.1" fill="#8c8c8c" />
<polygon points="1178.6,914.4 1207.5,923.4 1207.5,926.5 1178.6,917.5" fill="#bdbdbd" />
<polygon points="1113.3,899.5 1134.6,906.1 1134.6,916.2 1113.3,909.5" fill="#18181a" />
<polygon points="1213.6,930.9 1225.7,934.7 1225.7,944.9 1213.6,941" fill="#18181a" />
<polygon points="1013,853.2 1104.6,783.8 1399.7,874.1 1316.9,947.6" fill="#3e3e3e" />
<polyline points="1013,853.6 1316.9,948 1399.7,874.5" fill="none" stroke="#5a5a5a" stroke-width="1" />
<polygon points="1013,825.1 1316.9,918.1 1316.9,947.2 1013,852.8" fill="#2b2b2b" />
<polygon points="1013,826.6 1316.9,919.7 1316.9,932.1 1013,838.4" fill="#404040" />
<polyline points="1013,839 1316.9,932.6" fill="none" stroke="#0e0e0f" stroke-width="2.2" />
<polyline points="1013,841 1316.9,934.7" fill="none" stroke="#505050" stroke-width="0.9" />
<polygon points="1316.9,918.1 1399.7,845 1399.7,873.7 1316.9,947.2" fill="#202020" />
<polyline points="1321,926.7 1395.6,860.7" fill="none" stroke="#5e5e5e" stroke-width="2" />
<polyline points="1321,929.3 1395.6,863.3" fill="none" stroke="#0a0a0a" stroke-width="1.5" />
<polygon points="1331,906.7 1339.3,899.4 1339.3,903.6 1331,910.9" fill="#3c3c3c" />
<polygon points="1354.2,886.2 1362.4,878.9 1362.4,883.1 1354.2,890.4" fill="#3c3c3c" />
<polygon points="1377.3,865.8 1385.6,858.5 1385.6,862.6 1377.3,869.9" fill="#3c3c3c" />
<polygon points="1122.4,861.6 1213.6,889.6 1213.6,900.8 1122.4,872.7" fill="#0a0a0b" />
<polygon points="1134.6,867.9 1174.1,880 1174.1,883.1 1134.6,871" fill="#b8b8b8" />
<polygon points="1169.5,879.7 1181.7,883.4 1181.7,889.1 1169.5,885.3" fill="#8c8c8c" />
<polygon points="1178.6,885.5 1207.5,894.4 1207.5,897.5 1178.6,888.6" fill="#bdbdbd" />
<polygon points="1113.3,870.9 1134.6,877.4 1134.6,887.5 1113.3,880.9" fill="#18181a" />
<polygon points="1213.6,901.8 1225.7,905.6 1225.7,915.8 1213.6,912" fill="#18181a" />
<polygon points="1013,825.1 1104.6,756.2 1399.7,845 1316.9,918.1" fill="#3e3e3e" />
<polyline points="1013,825.5 1316.9,918.5 1399.7,845.4" fill="none" stroke="#5a5a5a" stroke-width="1" />
<polygon points="1013,797 1316.9,888.6 1316.9,917.7 1013,824.7" fill="#2b2b2b" />
<polygon points="1013,798.5 1316.9,890.2 1316.9,902.6 1013,810.3" fill="#404040" />
<polyline points="1013,810.9 1316.9,903.1" fill="none" stroke="#0e0e0f" stroke-width="2.2" />
<polyline points="1013,812.9 1316.9,905.2" fill="none" stroke="#505050" stroke-width="0.9" />
<polygon points="1316.9,888.6 1399.7,815.9 1399.7,844.6 1316.9,917.7" fill="#202020" />
<polyline points="1321,897.2 1395.6,831.6" fill="none" stroke="#5e5e5e" stroke-width="2" />
<polyline points="1321,899.8 1395.6,834.2" fill="none" stroke="#0a0a0a" stroke-width="1.5" />
<polygon points="1331,877.3 1339.3,870 1339.3,874.2 1331,881.5" fill="#3c3c3c" />
<polygon points="1354.2,856.9 1362.4,849.7 1362.4,853.8 1354.2,861.1" fill="#3c3c3c" />
<polygon points="1377.3,836.6 1385.6,829.3 1385.6,833.4 1377.3,840.7" fill="#3c3c3c" />
<polygon points="1122.4,833 1213.6,860.6 1213.6,871.8 1122.4,844.1" fill="#0a0a0b" />
<polygon points="1134.6,839.3 1174.1,851.2 1174.1,854.3 1134.6,842.3" fill="#b8b8b8" />
<polygon points="1169.5,850.8 1181.7,854.5 1181.7,860.2 1169.5,856.5" fill="#8c8c8c" />
<polygon points="1178.6,856.7 1207.5,865.4 1207.5,868.5 1178.6,859.8" fill="#bdbdbd" />
<polygon points="1113.3,842.3 1134.6,848.8 1134.6,858.8 1113.3,852.3" fill="#18181a" />
<polygon points="1213.6,872.8 1225.7,876.5 1225.7,886.7 1213.6,883" fill="#18181a" />
<polygon points="1013,797 1104.6,728.7 1399.7,815.9 1316.9,888.6" fill="#3e3e3e" />
<polyline points="1013,797.4 1316.9,889 1399.7,816.3" fill="none" stroke="#5a5a5a" stroke-width="1" />
<polygon points="1117.5,827.6 1211.6,856 1292.4,789.1 1200.8,762" fill="#262626" />
<polygon points="1149.7,806.5 1239.9,833.6 1290.6,791.5 1202,765.3" fill="#4b4b4b" />
<polygon points="1195.8,770.2 1284.6,796.5 1290.6,791.5 1202,765.3" fill="#2e2e2e" />
<polygon points="1187.3,817.8 1214.4,825.9 1259.5,789.1 1232.8,781.2" fill="#5a5a5a" />
<polyline points="1187.3,817.8 1232.8,781.2" fill="none" stroke="#1a1a1a" stroke-width="1.5" />
<polyline points="1196.3,820.5 1241.7,783.8" fill="none" stroke="#1a1a1a" stroke-width="1.5" />
<polyline points="1206.9,823.6 1252.1,786.9" fill="none" stroke="#1a1a1a" stroke-width="1.5" />
<polyline points="1214.4,825.9 1259.5,789.1" fill="none" stroke="#1a1a1a" stroke-width="1.5" />
<polygon points="1141.1,835.8 1207.9,856 1227.7,839.6 1161.4,819.7" fill="#060606" />
<polyline points="1147.1,808.6 1237.4,835.7" fill="none" stroke="#101010" stroke-width="2" />
<polygon points="1013,794 1114.8,824.6 1203.5,754.9 1104.6,725.8" fill="#484848" />
<polygon points="1114.8,824.6 1203.5,754.9 1203.5,760.9 1114.8,830.7" fill="#1c1c1c" />
<polygon points="1013,794 1114.8,824.6 1114.8,828.7 1013,798" fill="#585858" />
<polygon points="1029.7,790.4 1114.3,815.8 1187.2,758.7 1104.6,734.3" fill="#555555" stroke="#1c1c1c" stroke-width="1.8" stroke-linejoin="round"/>
<polyline points="1032.3,789.7 1114.4,814.4" fill="none" stroke="#7a7a7a" stroke-width="0.8" />
<polyline points="1045.8,784.7 1118,806.3" fill="none" stroke="#1e1e1e" stroke-width="1.7" />
<polyline points="1047.8,783.2 1120,804.8" fill="none" stroke="#808080" stroke-width="0.9" />
<polyline points="1052.2,779.9 1124.3,801.5" fill="none" stroke="#1e1e1e" stroke-width="1.7" />
<polyline points="1054.2,778.4 1126.2,800" fill="none" stroke="#808080" stroke-width="0.9" />
<polyline points="1058.6,775.1 1130.5,796.6" fill="none" stroke="#1e1e1e" stroke-width="1.7" />
<polyline points="1060.6,773.6 1132.5,795.1" fill="none" stroke="#808080" stroke-width="0.9" />
<polyline points="1070.4,766.2 1142.1,787.6" fill="none" stroke="#1e1e1e" stroke-width="1.7" />
<polyline points="1072.4,764.7 1144,786" fill="none" stroke="#808080" stroke-width="0.9" />
<polyline points="1076.8,761.4 1148.3,782.7" fill="none" stroke="#1e1e1e" stroke-width="1.7" />
<polyline points="1078.8,759.9 1150.3,781.2" fill="none" stroke="#808080" stroke-width="0.9" />
<polyline points="1083.2,756.6 1154.6,777.8" fill="none" stroke="#1e1e1e" stroke-width="1.7" />
<polyline points="1085.2,755.1 1156.5,776.3" fill="none" stroke="#808080" stroke-width="0.9" />
<polyline points="1095.1,747.7 1166.1,768.8" fill="none" stroke="#1e1e1e" stroke-width="1.7" />
<polyline points="1097.1,746.2 1168.1,767.3" fill="none" stroke="#808080" stroke-width="0.9" />
<polyline points="1101.4,742.9 1172.4,763.9" fill="none" stroke="#1e1e1e" stroke-width="1.7" />
<polyline points="1103.4,741.4 1174.3,762.4" fill="none" stroke="#808080" stroke-width="0.9" />
<polygon points="1209,853 1316.9,885.5 1399.7,812.8 1294.9,781.9" fill="#484848" />
<polygon points="1209,853 1316.9,885.5 1316.9,889.6 1209,857.1" fill="#585858" />
<polygon points="1316.9,885.5 1399.7,812.8 1399.7,816.9 1316.9,889.6" fill="#1b1b1c" />
<polygon points="1225.2,849.1 1315.9,876.4 1384,816.9 1295.5,790.7" fill="#555555" stroke="#1c1c1c" stroke-width="1.8" stroke-linejoin="round"/>
<polyline points="1227.7,848.4 1315.9,874.9" fill="none" stroke="#7a7a7a" stroke-width="0.8" />
<polyline points="1240.7,843.1 1319,866.6" fill="none" stroke="#1e1e1e" stroke-width="1.7" />
<polyline points="1242.6,841.5 1320.8,865" fill="none" stroke="#808080" stroke-width="0.9" />
<polyline points="1246.7,838.1 1324.8,861.5" fill="none" stroke="#1e1e1e" stroke-width="1.7" />
<polyline points="1248.6,836.6 1326.6,859.9" fill="none" stroke="#808080" stroke-width="0.9" />
<polyline points="1252.7,833.1 1330.6,856.4" fill="none" stroke="#1e1e1e" stroke-width="1.7" />
<polyline points="1254.6,831.6 1332.4,854.8" fill="none" stroke="#808080" stroke-width="0.9" />
<polyline points="1263.8,823.9 1341.4,847" fill="none" stroke="#1e1e1e" stroke-width="1.7" />
<polyline points="1265.7,822.3 1343.3,845.4" fill="none" stroke="#808080" stroke-width="0.9" />
<polyline points="1269.8,818.9 1347.3,841.9" fill="none" stroke="#1e1e1e" stroke-width="1.7" />
<polyline points="1271.7,817.3 1349.1,840.3" fill="none" stroke="#808080" stroke-width="0.9" />
<polyline points="1275.8,813.9 1353.1,836.9" fill="none" stroke="#1e1e1e" stroke-width="1.7" />
<polyline points="1277.6,812.3 1354.9,835.3" fill="none" stroke="#808080" stroke-width="0.9" />
<polyline points="1286.9,804.6 1363.9,827.5" fill="none" stroke="#1e1e1e" stroke-width="1.7" />
<polyline points="1288.8,803 1365.7,825.9" fill="none" stroke="#808080" stroke-width="0.9" />
<polyline points="1292.9,799.6 1369.7,822.4" fill="none" stroke="#1e1e1e" stroke-width="1.7" />
<polyline points="1294.7,798.1 1371.6,820.8" fill="none" stroke="#808080" stroke-width="0.9" />
<polygon points="1149.9,791.8 1158.9,794.5 1173.1,783.3 1164.1,780.6" fill="#7a7a7c" />
<polygon points="1149.9,791.8 1158.9,794.5 1162.5,791.7 1153.5,789" fill="#4a4a4c" />
<polygon points="1240,820.6 1250.2,823.6 1265.6,810.8 1255.5,807.8" fill="#8c8c8e" />
<polygon points="1245.2,816.3 1255.4,819.4 1259.6,815.8 1249.5,812.8" fill="#505052" />
</g>
<g id="spare-wheels">
<rect x="1036.2" y="1136.3" width="6.4" height="13" rx="1.2" fill="url(#gStem)"/>
<line x1="1036.2" y1="1139" x2="1042.6" y2="1139" stroke="#8a8a8c" stroke-width="0.6"/>
<line x1="1036.2" y1="1141.5" x2="1042.6" y2="1141.5" stroke="#8a8a8c" stroke-width="0.6"/>
<line x1="1036.2" y1="1144" x2="1042.6" y2="1144" stroke="#8a8a8c" stroke-width="0.6"/>
<rect x="1033.5" y="1147.5" width="11.5" height="6" rx="1.5" fill="#c4c4c6"/>
<rect x="1033.5" y="1150.5" width="11.5" height="3" fill="#77777a"/>
<rect x="1034" y="1153" width="12" height="8" fill="#0b0b0c"/>
<ellipse cx="1057.5" cy="1176.5" rx="16.5" ry="23" fill="#1c1c1c"/>
<polygon points="1039,1158.5 1057.5,1153.6 1057.5,1199.4 1039,1200.4" fill="#1c1c1c"/>
<path d="M1056 1155 a15 21.5 0 0 1 12 9" fill="none" stroke="#3c3c3c" stroke-width="1.4"/>
<polygon points="1056,1160 1061,1158.5 1062,1163.5 1057,1165" fill="#363638"/>
<rect x="1059.5" y="1169" width="9" height="11" rx="2.5" fill="#2c2c2c"/>
<rect x="1064" y="1171" width="4" height="7" rx="1" fill="#39393b"/>
<ellipse cx="1058" cy="1192" rx="5" ry="3" fill="#050505"/>
<ellipse cx="1040.4" cy="1179.6" rx="16.6" ry="22" fill="#0a0a0a" transform="rotate(-6 1040.4 1179.6)"/>
<ellipse cx="1039.4" cy="1179.6" rx="14.6" ry="20" fill="url(#gWheelF)" transform="rotate(-6 1039.4 1179.6)"/>
<rect x="1098.2" y="1136.3" width="6.4" height="13" rx="1.2" fill="url(#gStem)"/>
<line x1="1098.2" y1="1139" x2="1104.6" y2="1139" stroke="#8a8a8c" stroke-width="0.6"/>
<line x1="1098.2" y1="1141.5" x2="1104.6" y2="1141.5" stroke="#8a8a8c" stroke-width="0.6"/>
<line x1="1098.2" y1="1144" x2="1104.6" y2="1144" stroke="#8a8a8c" stroke-width="0.6"/>
<rect x="1095.5" y="1147.5" width="11.5" height="6" rx="1.5" fill="#c4c4c6"/>
<rect x="1095.5" y="1150.5" width="11.5" height="3" fill="#77777a"/>
<rect x="1096" y="1153" width="12" height="8" fill="#0b0b0c"/>
<ellipse cx="1119.5" cy="1176.5" rx="16.5" ry="23" fill="#1c1c1c"/>
<polygon points="1101,1158.5 1119.5,1153.6 1119.5,1199.4 1101,1200.4" fill="#1c1c1c"/>
<path d="M1118 1155 a15 21.5 0 0 1 12 9" fill="none" stroke="#3c3c3c" stroke-width="1.4"/>
<polygon points="1118,1160 1123,1158.5 1124,1163.5 1119,1165" fill="#363638"/>
<rect x="1121.5" y="1169" width="9" height="11" rx="2.5" fill="#2c2c2c"/>
<rect x="1126" y="1171" width="4" height="7" rx="1" fill="#39393b"/>
<ellipse cx="1120" cy="1192" rx="5" ry="3" fill="#050505"/>
<ellipse cx="1102.4" cy="1179.6" rx="16.6" ry="22" fill="#0a0a0a" transform="rotate(-6 1102.4 1179.6)"/>
<ellipse cx="1101.4" cy="1179.6" rx="14.6" ry="20" fill="url(#gWheelF)" transform="rotate(-6 1101.4 1179.6)"/>
<rect x="1161.2" y="1136.3" width="6.4" height="13" rx="1.2" fill="url(#gStem)"/>
<line x1="1161.2" y1="1139" x2="1167.6" y2="1139" stroke="#8a8a8c" stroke-width="0.6"/>
<line x1="1161.2" y1="1141.5" x2="1167.6" y2="1141.5" stroke="#8a8a8c" stroke-width="0.6"/>
<line x1="1161.2" y1="1144" x2="1167.6" y2="1144" stroke="#8a8a8c" stroke-width="0.6"/>
<rect x="1158.5" y="1147.5" width="11.5" height="6" rx="1.5" fill="#c4c4c6"/>
<rect x="1158.5" y="1150.5" width="11.5" height="3" fill="#77777a"/>
<rect x="1159" y="1153" width="12" height="8" fill="#0b0b0c"/>
<ellipse cx="1182.5" cy="1176.5" rx="16.5" ry="23" fill="#1c1c1c"/>
<polygon points="1164,1158.5 1182.5,1153.6 1182.5,1199.4 1164,1200.4" fill="#1c1c1c"/>
<path d="M1181 1155 a15 21.5 0 0 1 12 9" fill="none" stroke="#3c3c3c" stroke-width="1.4"/>
<polygon points="1181,1160 1186,1158.5 1187,1163.5 1182,1165" fill="#363638"/>
<rect x="1184.5" y="1169" width="9" height="11" rx="2.5" fill="#2c2c2c"/>
<rect x="1189" y="1171" width="4" height="7" rx="1" fill="#39393b"/>
<ellipse cx="1183" cy="1192" rx="5" ry="3" fill="#050505"/>
<ellipse cx="1165.4" cy="1179.6" rx="16.6" ry="22" fill="#0a0a0a" transform="rotate(-6 1165.4 1179.6)"/>
<ellipse cx="1164.4" cy="1179.6" rx="14.6" ry="20" fill="url(#gWheelF)" transform="rotate(-6 1164.4 1179.6)"/>
<rect x="1222.2" y="1136.3" width="6.4" height="13" rx="1.2" fill="url(#gStem)"/>
<line x1="1222.2" y1="1139" x2="1228.6" y2="1139" stroke="#8a8a8c" stroke-width="0.6"/>
<line x1="1222.2" y1="1141.5" x2="1228.6" y2="1141.5" stroke="#8a8a8c" stroke-width="0.6"/>
<line x1="1222.2" y1="1144" x2="1228.6" y2="1144" stroke="#8a8a8c" stroke-width="0.6"/>
<rect x="1219.5" y="1147.5" width="11.5" height="6" rx="1.5" fill="#c4c4c6"/>
<rect x="1219.5" y="1150.5" width="11.5" height="3" fill="#77777a"/>
<rect x="1220" y="1153" width="12" height="8" fill="#0b0b0c"/>
<ellipse cx="1243.5" cy="1176.5" rx="16.5" ry="23" fill="#1c1c1c"/>
<polygon points="1225,1158.5 1243.5,1153.6 1243.5,1199.4 1225,1200.4" fill="#1c1c1c"/>
<path d="M1242 1155 a15 21.5 0 0 1 12 9" fill="none" stroke="#3c3c3c" stroke-width="1.4"/>
<polygon points="1242,1160 1247,1158.5 1248,1163.5 1243,1165" fill="#363638"/>
<rect x="1245.5" y="1169" width="9" height="11" rx="2.5" fill="#2c2c2c"/>
<rect x="1250" y="1171" width="4" height="7" rx="1" fill="#39393b"/>
<ellipse cx="1244" cy="1192" rx="5" ry="3" fill="#050505"/>
<ellipse cx="1226.4" cy="1179.6" rx="16.6" ry="22" fill="#0a0a0a" transform="rotate(-6 1226.4 1179.6)"/>
<ellipse cx="1225.4" cy="1179.6" rx="14.6" ry="20" fill="url(#gWheelF)" transform="rotate(-6 1225.4 1179.6)"/>
<rect x="1285.2" y="1136.3" width="6.4" height="13" rx="1.2" fill="url(#gStem)"/>
<line x1="1285.2" y1="1139" x2="1291.6" y2="1139" stroke="#8a8a8c" stroke-width="0.6"/>
<line x1="1285.2" y1="1141.5" x2="1291.6" y2="1141.5" stroke="#8a8a8c" stroke-width="0.6"/>
<line x1="1285.2" y1="1144" x2="1291.6" y2="1144" stroke="#8a8a8c" stroke-width="0.6"/>
<rect x="1282.5" y="1147.5" width="11.5" height="6" rx="1.5" fill="#c4c4c6"/>
<rect x="1282.5" y="1150.5" width="11.5" height="3" fill="#77777a"/>
<rect x="1283" y="1153" width="12" height="8" fill="#0b0b0c"/>
<ellipse cx="1306.5" cy="1176.5" rx="16.5" ry="23" fill="#1c1c1c"/>
<polygon points="1288,1158.5 1306.5,1153.6 1306.5,1199.4 1288,1200.4" fill="#1c1c1c"/>
<path d="M1305 1155 a15 21.5 0 0 1 12 9" fill="none" stroke="#3c3c3c" stroke-width="1.4"/>
<polygon points="1305,1160 1310,1158.5 1311,1163.5 1306,1165" fill="#363638"/>
<rect x="1308.5" y="1169" width="9" height="11" rx="2.5" fill="#2c2c2c"/>
<rect x="1313" y="1171" width="4" height="7" rx="1" fill="#39393b"/>
<ellipse cx="1307" cy="1192" rx="5" ry="3" fill="#050505"/>
<ellipse cx="1289.4" cy="1179.6" rx="16.6" ry="22" fill="#0a0a0a" transform="rotate(-6 1289.4 1179.6)"/>
<ellipse cx="1288.4" cy="1179.6" rx="14.6" ry="20" fill="url(#gWheelF)" transform="rotate(-6 1288.4 1179.6)"/>
<rect x="1347.2" y="1136.3" width="6.4" height="13" rx="1.2" fill="url(#gStem)"/>
<line x1="1347.2" y1="1139" x2="1353.6" y2="1139" stroke="#8a8a8c" stroke-width="0.6"/>
<line x1="1347.2" y1="1141.5" x2="1353.6" y2="1141.5" stroke="#8a8a8c" stroke-width="0.6"/>
<line x1="1347.2" y1="1144" x2="1353.6" y2="1144" stroke="#8a8a8c" stroke-width="0.6"/>
<rect x="1344.5" y="1147.5" width="11.5" height="6" rx="1.5" fill="#c4c4c6"/>
<rect x="1344.5" y="1150.5" width="11.5" height="3" fill="#77777a"/>
<rect x="1345" y="1153" width="12" height="8" fill="#0b0b0c"/>
<ellipse cx="1368.5" cy="1176.5" rx="16.5" ry="23" fill="#1c1c1c"/>
<polygon points="1350,1158.5 1368.5,1153.6 1368.5,1199.4 1350,1200.4" fill="#1c1c1c"/>
<path d="M1367 1155 a15 21.5 0 0 1 12 9" fill="none" stroke="#3c3c3c" stroke-width="1.4"/>
<polygon points="1367,1160 1372,1158.5 1373,1163.5 1368,1165" fill="#363638"/>
<rect x="1370.5" y="1169" width="9" height="11" rx="2.5" fill="#2c2c2c"/>
<rect x="1375" y="1171" width="4" height="7" rx="1" fill="#39393b"/>
<ellipse cx="1369" cy="1192" rx="5" ry="3" fill="#050505"/>
<ellipse cx="1351.4" cy="1179.6" rx="16.6" ry="22" fill="#0a0a0a" transform="rotate(-6 1351.4 1179.6)"/>
<ellipse cx="1350.4" cy="1179.6" rx="14.6" ry="20" fill="url(#gWheelF)" transform="rotate(-6 1350.4 1179.6)"/>
</g>
<g id="dimensions">
<line x1="63.9" y1="333" x2="63.9" y2="643.5" stroke="#8f735c" stroke-width="1.9"/>
<line x1="63.9" y1="709.5" x2="63.9" y2="1131" stroke="#8f735c" stroke-width="1.9"/>
<polygon points="63.9,326.5 68.7,338.5 63.9,334.7 59.1,338.5" fill="#ad7852"/>
<polygon points="63.9,1138 59.1,1126 63.9,1129.8 68.7,1126" fill="#ad7852"/>
<line x1="87" y1="1156.7" x2="281" y2="1184.5" stroke="#8f735c" stroke-width="1.9"/>
<polygon points="80.4,1155.7 93,1152.7 88.5,1156.9 91.6,1162.2" fill="#ad7852"/>
<polygon points="286.9,1185.3 274.3,1188.3 278.8,1184.1 275.7,1178.8" fill="#ad7852"/>
<line x1="309" y1="1184.3" x2="864" y2="1152.1" stroke="#8f735c" stroke-width="1.9"/>
<polygon points="302.4,1184.7 314.1,1179.2 310.5,1184.2 314.7,1188.8" fill="#ad7852"/>
<polygon points="870.6,1151.7 858.9,1157.2 862.5,1152.2 858.3,1147.6" fill="#ad7852"/>
<line x1="897.8" y1="857" x2="897.8" y2="928" stroke="#8f735c" stroke-width="1.9"/>
<line x1="897.8" y1="995" x2="897.8" y2="1116" stroke="#8f735c" stroke-width="1.9"/>
<polygon points="897.8,850.2 902.6,862.2 897.8,858.4 893,862.2" fill="#ad7852"/>
<polygon points="897.8,1123 893,1111 897.8,1114.8 902.6,1111" fill="#ad7852"/>
<text x="0.2" y="687.2" font-size="45.3" font-weight="700" fill="#a66d40" text-anchor="start" textLength="105.5" lengthAdjust="spacingAndGlyphs" stroke="#ffffff" stroke-width="0.6" paint-order="fill stroke">45.8”</text>
<text x="863" y="976.8" font-size="44" font-weight="700" fill="#a66d40" text-anchor="start" textLength="104.5" lengthAdjust="spacingAndGlyphs" stroke="#ffffff" stroke-width="0.6" paint-order="fill stroke">17.2”</text>
<text x="561" y="1224.3" font-size="56.5" font-weight="700" fill="#a66d40" text-anchor="start" textLength="83" lengthAdjust="spacingAndGlyphs" stroke="#ffffff" stroke-width="0.6" paint-order="fill stroke">35”</text>
<text x="130.5" y="1215.5" font-size="43.5" font-weight="700" fill="#a66d40" text-anchor="start" textLength="103.5" lengthAdjust="spacingAndGlyphs" stroke="#ffffff" stroke-width="0.6" paint-order="fill stroke" transform="rotate(7.8 131 1215)">15.7”</text>
</g>
<text x="1155.4" y="89.2" font-size="85.5" font-weight="700" fill="#ffffff" text-anchor="start" textLength="236" lengthAdjust="spacingAndGlyphs" >660Qt</text>
<text x="1034.2" y="158.7" font-size="53.5" font-weight="700" fill="#ffffff" text-anchor="start" textLength="356.5" lengthAdjust="spacingAndGlyphs" >(165Gal/625L)</text>
<text x="1110.5" y="557.1" font-size="35" font-weight="400" fill="#a36e48" text-anchor="start" textLength="48.5" lengthAdjust="spacingAndGlyphs" stroke="#a36e48" stroke-width="0.8">Lid</text>
<rect x="1172.8" y="525.9" width="88.8" height="41.6" rx="20.8" fill="#9e7659"/>
<text x="1189.5" y="556.6" font-size="36.5" font-weight="700" fill="#ffffff" text-anchor="start" textLength="61.5" lengthAdjust="spacingAndGlyphs" >1pc</text>
<text x="1128.5" y="1029" font-size="35.5" font-weight="400" fill="#a36e48" text-anchor="start" textLength="155" lengthAdjust="spacingAndGlyphs" stroke="#a36e48" stroke-width="0.8">Box (3pc)</text>
<text x="1026.8" y="1277.8" font-size="35" font-weight="400" fill="#a36e48" text-anchor="start" textLength="358.5" lengthAdjust="spacingAndGlyphs" stroke="#a36e48" stroke-width="0.8">Rotating Wheels (6pc)</text>
</svg>
</body></html>
